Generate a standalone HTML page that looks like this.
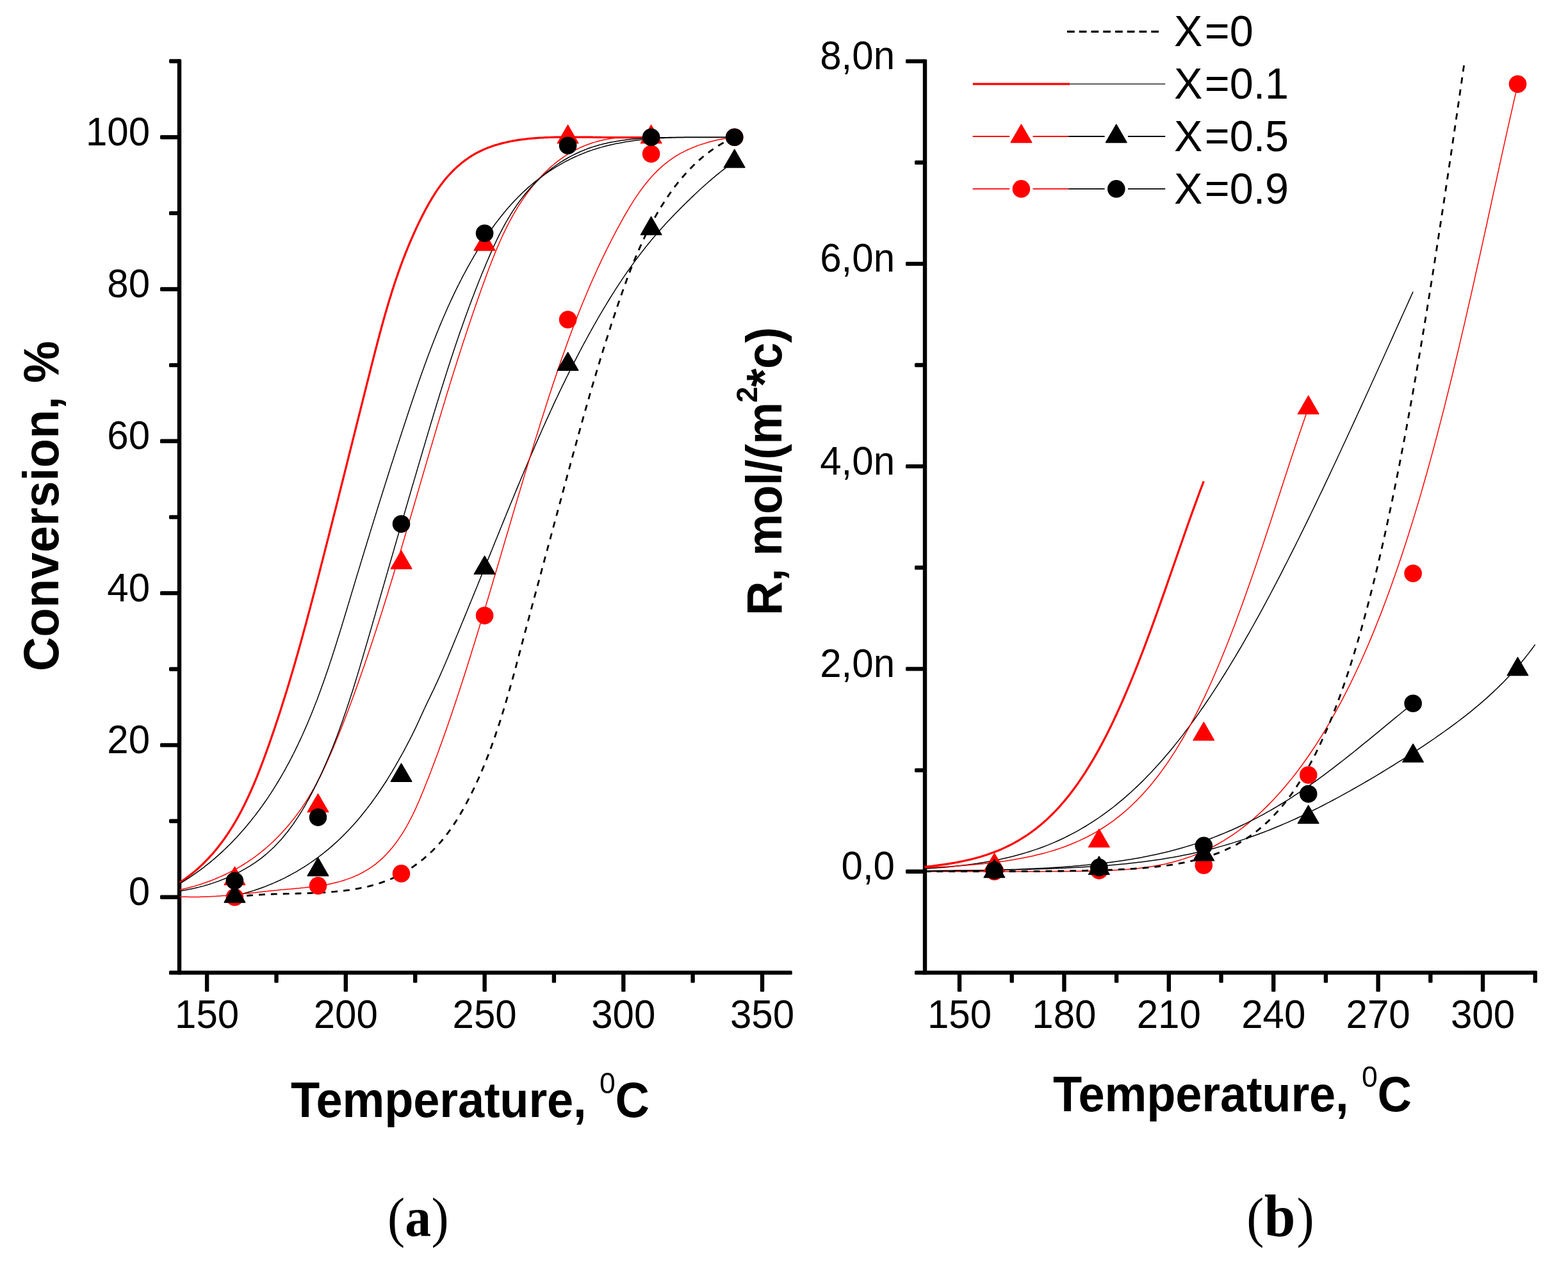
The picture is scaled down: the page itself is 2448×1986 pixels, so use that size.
<!DOCTYPE html>
<html lang="en"><head><meta charset="utf-8"><title>Conversion and reaction rate vs temperature</title>
<style>html,body{margin:0;padding:0;background:#fff}svg{display:block}text{font-family:"Liberation Sans",sans-serif;fill:#000}.tk{font-size:60px}.ttl{font-size:74.0px;font-weight:bold}.lg{font-size:66.5px}.cap{font-family:"Liberation Serif",serif}.axl{stroke:#000;stroke-width:6.4;fill:none;stroke-linecap:round}</style></head><body>
<svg xmlns="http://www.w3.org/2000/svg" width="2448" height="1986" viewBox="0 0 2448 1986">
<rect width="2448" height="1986" fill="#fff"/>
<g id="axes-a">
<rect x="276.8" y="92.3" width="6.4" height="1429.5" rx="1.6" fill="#000"/>
<rect x="264.0" y="1515.4" width="972.7" height="6.4" rx="1.6" fill="#000"/>
<rect x="319.9" y="1518.6" width="6.4" height="30.0" rx="1.6" fill="#000"/>
<rect x="536.6" y="1518.6" width="6.4" height="30.0" rx="1.6" fill="#000"/>
<rect x="753.4" y="1518.6" width="6.4" height="30.0" rx="1.6" fill="#000"/>
<rect x="970.1" y="1518.6" width="6.4" height="30.0" rx="1.6" fill="#000"/>
<rect x="1186.8" y="1518.6" width="6.4" height="30.0" rx="1.6" fill="#000"/>
<rect x="428.3" y="1518.6" width="6.4" height="16.0" rx="1.6" fill="#000"/>
<rect x="645.0" y="1518.6" width="6.4" height="16.0" rx="1.6" fill="#000"/>
<rect x="861.7" y="1518.6" width="6.4" height="16.0" rx="1.6" fill="#000"/>
<rect x="1078.4" y="1518.6" width="6.4" height="16.0" rx="1.6" fill="#000"/>
<rect x="250.0" y="1397.5" width="30.0" height="6.4" rx="1.6" fill="#000"/>
<rect x="250.0" y="1160.2" width="30.0" height="6.4" rx="1.6" fill="#000"/>
<rect x="250.0" y="922.9" width="30.0" height="6.4" rx="1.6" fill="#000"/>
<rect x="250.0" y="685.6" width="30.0" height="6.4" rx="1.6" fill="#000"/>
<rect x="250.0" y="448.3" width="30.0" height="6.4" rx="1.6" fill="#000"/>
<rect x="250.0" y="211.0" width="30.0" height="6.4" rx="1.6" fill="#000"/>
<rect x="264.0" y="1278.8" width="16.0" height="6.4" rx="1.6" fill="#000"/>
<rect x="264.0" y="1041.5" width="16.0" height="6.4" rx="1.6" fill="#000"/>
<rect x="264.0" y="804.2" width="16.0" height="6.4" rx="1.6" fill="#000"/>
<rect x="264.0" y="566.9" width="16.0" height="6.4" rx="1.6" fill="#000"/>
<rect x="264.0" y="329.7" width="16.0" height="6.4" rx="1.6" fill="#000"/>
<rect x="264.0" y="92.3" width="16.0" height="6.4" rx="1.6" fill="#000"/>
<text class="tk" transform="translate(323.1 1604.6) scale(1 1.04)" text-anchor="middle">150</text>
<text class="tk" transform="translate(539.8 1604.6) scale(1 1.04)" text-anchor="middle">200</text>
<text class="tk" transform="translate(756.6 1604.6) scale(1 1.04)" text-anchor="middle">250</text>
<text class="tk" transform="translate(973.3 1604.6) scale(1 1.04)" text-anchor="middle">300</text>
<text class="tk" transform="translate(1190.0 1604.6) scale(1 1.04)" text-anchor="middle">350</text>
<text class="tk" transform="translate(234.0 1413.2) scale(1 1.04)" text-anchor="end">0</text>
<text class="tk" transform="translate(234.0 1175.9) scale(1 1.04)" text-anchor="end">20</text>
<text class="tk" transform="translate(234.0 938.6) scale(1 1.04)" text-anchor="end">40</text>
<text class="tk" transform="translate(234.0 701.3) scale(1 1.04)" text-anchor="end">60</text>
<text class="tk" transform="translate(234.0 464.0) scale(1 1.04)" text-anchor="end">80</text>
<text class="tk" transform="translate(234.0 226.7) scale(1 1.04)" text-anchor="end">100</text>
</g>
<g id="axes-b">
<rect x="1440.8" y="92.4" width="6.4" height="1429.4" rx="1.6" fill="#000"/>
<rect x="1428.0" y="1515.4" width="972.0" height="6.4" rx="1.6" fill="#000"/>
<rect x="1494.8" y="1518.6" width="6.4" height="30.0" rx="1.6" fill="#000"/>
<rect x="1658.2" y="1518.6" width="6.4" height="30.0" rx="1.6" fill="#000"/>
<rect x="1821.6" y="1518.6" width="6.4" height="30.0" rx="1.6" fill="#000"/>
<rect x="1985.0" y="1518.6" width="6.4" height="30.0" rx="1.6" fill="#000"/>
<rect x="2148.4" y="1518.6" width="6.4" height="30.0" rx="1.6" fill="#000"/>
<rect x="2311.8" y="1518.6" width="6.4" height="30.0" rx="1.6" fill="#000"/>
<rect x="1576.5" y="1518.6" width="6.4" height="16.0" rx="1.6" fill="#000"/>
<rect x="1739.9" y="1518.6" width="6.4" height="16.0" rx="1.6" fill="#000"/>
<rect x="1903.3" y="1518.6" width="6.4" height="16.0" rx="1.6" fill="#000"/>
<rect x="2066.7" y="1518.6" width="6.4" height="16.0" rx="1.6" fill="#000"/>
<rect x="2230.1" y="1518.6" width="6.4" height="16.0" rx="1.6" fill="#000"/>
<rect x="2393.5" y="1518.6" width="6.4" height="16.0" rx="1.6" fill="#000"/>
<rect x="1414.0" y="1357.5" width="30.0" height="6.4" rx="1.6" fill="#000"/>
<rect x="1414.0" y="1041.2" width="30.0" height="6.4" rx="1.6" fill="#000"/>
<rect x="1414.0" y="724.9" width="30.0" height="6.4" rx="1.6" fill="#000"/>
<rect x="1414.0" y="408.7" width="30.0" height="6.4" rx="1.6" fill="#000"/>
<rect x="1414.0" y="92.4" width="30.0" height="6.4" rx="1.6" fill="#000"/>
<rect x="1428.0" y="1199.4" width="16.0" height="6.4" rx="1.6" fill="#000"/>
<rect x="1428.0" y="883.1" width="16.0" height="6.4" rx="1.6" fill="#000"/>
<rect x="1428.0" y="566.8" width="16.0" height="6.4" rx="1.6" fill="#000"/>
<rect x="1428.0" y="250.5" width="16.0" height="6.4" rx="1.6" fill="#000"/>
<text class="tk" transform="translate(1498.0 1604.6) scale(1 1.04)" text-anchor="middle">150</text>
<text class="tk" transform="translate(1661.4 1604.6) scale(1 1.04)" text-anchor="middle">180</text>
<text class="tk" transform="translate(1824.8 1604.6) scale(1 1.04)" text-anchor="middle">210</text>
<text class="tk" transform="translate(1988.2 1604.6) scale(1 1.04)" text-anchor="middle">240</text>
<text class="tk" transform="translate(2151.6 1604.6) scale(1 1.04)" text-anchor="middle">270</text>
<text class="tk" transform="translate(2315.0 1604.6) scale(1 1.04)" text-anchor="middle">300</text>
<text class="tk" transform="translate(1397.0 1373.2) scale(1 1.04)" text-anchor="end">0,0</text>
<text class="tk" transform="translate(1397.0 1056.9) scale(1 1.04)" text-anchor="end">2,0n</text>
<text class="tk" transform="translate(1397.0 740.6) scale(1 1.04)" text-anchor="end">4,0n</text>
<text class="tk" transform="translate(1397.0 424.4) scale(1 1.04)" text-anchor="end">6,0n</text>
<text class="tk" transform="translate(1397.0 108.1) scale(1 1.04)" text-anchor="end">8,0n</text>
</g>
<g id="plot-a">
<path d="M280.5 1377.9L283.1 1376.2L285.6 1374.5L288.2 1372.7L290.7 1370.9L293.1 1369.1L295.5 1367.2L297.9 1365.4L300.3 1363.5L302.7 1361.6L305.0 1359.6L307.2 1357.7L309.5 1355.7L311.7 1353.7L313.9 1351.6L316.1 1349.6L318.2 1347.5L320.3 1345.4L322.4 1343.2L324.5 1341.1L326.5 1338.9L328.5 1336.7L330.5 1334.5L332.5 1332.3L334.4 1330.0L336.3 1327.7L338.2 1325.4L340.1 1323.1L341.9 1320.8L343.7 1318.4L345.5 1316.1L347.3 1313.7L349.0 1311.3L350.8 1308.9L352.5 1306.4L354.2 1304.0L355.8 1301.5L357.5 1299.0L359.1 1296.5L360.7 1294.0L362.3 1291.5L363.8 1288.9L365.4 1286.4L366.9 1283.8L368.4 1281.2L369.9 1278.6L371.4 1276.0L372.8 1273.4L374.2 1270.7L375.7 1268.1L377.1 1265.4L378.4 1262.7L379.8 1260.0L381.2 1257.3L382.5 1254.6L383.8 1251.9L385.1 1249.2L386.4 1246.5L387.7 1243.7L389.0 1241.0L390.2 1238.2L391.5 1235.5L392.7 1232.7L393.9 1229.9L395.1 1227.1L396.3 1224.3L397.5 1221.5L398.7 1218.7L399.8 1215.9L401.0 1213.1L402.1 1210.3L403.2 1207.4L404.3 1204.6L405.5 1201.8L406.6 1198.9L407.6 1196.1L408.7 1193.2L409.8 1190.4L410.9 1187.5L411.9 1184.7L413.0 1181.8L414.0 1179.0L415.1 1176.1L416.1 1173.3L417.1 1170.4L418.1 1167.6L419.2 1164.7L420.2 1161.9L421.2 1159.0L422.2 1156.1L423.2 1153.3L424.1 1150.4L425.1 1147.6L426.1 1144.7L427.1 1141.9L428.1 1139.0L429.0 1136.2L430.0 1133.3L430.9 1130.5L431.9 1127.6L432.8 1124.8L433.8 1121.9L434.7 1119.1L435.6 1116.2L436.6 1113.3L437.5 1110.5L438.4 1107.6L439.3 1104.8L440.2 1101.9L441.1 1099.1L442.0 1096.2L442.9 1093.4L443.8 1090.5L444.7 1087.7L445.6 1084.8L446.5 1082.0L447.4 1079.1L448.3 1076.2L449.1 1073.4L450.0 1070.5L450.9 1067.7L451.7 1064.8L452.6 1062.0L453.4 1059.1L454.3 1056.2L455.1 1053.4L456.0 1050.5L456.8 1047.7L457.7 1044.8L458.5 1042.0L459.3 1039.1L460.2 1036.2L461.0 1033.4L461.8 1030.5L462.6 1027.6L463.4 1024.8L464.3 1021.9L465.1 1019.1L465.9 1016.2L466.7 1013.3L467.5 1010.5L468.3 1007.6L469.1 1004.7L469.9 1001.9L470.7 999.0L471.5 996.1L472.3 993.2L473.1 990.4L473.8 987.5L474.6 984.6L475.4 981.8L476.2 978.9L477.0 976.0L477.8 973.1L478.5 970.3L479.3 967.4L480.1 964.5L480.8 961.6L481.6 958.7L482.4 955.9L483.2 953.0L483.9 950.1L484.7 947.2L485.4 944.3L486.2 941.4L487.0 938.5L487.7 935.7L488.5 932.8L489.2 929.9L490.0 927.0L490.8 924.1L491.5 921.2L492.3 918.3L493.0 915.4L493.8 912.5L494.5 909.6L495.3 906.7L496.0 903.8L496.8 900.9L497.5 898.0L498.3 895.1L499.0 892.2L499.8 889.3L500.5 886.3L501.3 883.4L502.0 880.5L502.8 877.6L503.5 874.7L504.3 871.8L505.0 868.9L505.8 865.9L506.5 863.0L507.2 860.1L508.0 857.2L508.7 854.2L509.5 851.3L510.2 848.4L511.0 845.5L511.7 842.5L512.5 839.6L513.2 836.7L514.0 833.8L514.7 830.8L515.4 827.9L516.2 825.0L516.9 822.0L517.7 819.1L518.4 816.2L519.2 813.2L519.9 810.3L520.6 807.3L521.4 804.4L522.1 801.5L522.9 798.5L523.6 795.6L524.4 792.7L525.1 789.7L525.8 786.8L526.6 783.8L527.3 780.9L528.1 778.0L528.8 775.0L529.5 772.1L530.3 769.1L531.0 766.2L531.8 763.2L532.5 760.3L533.2 757.3L534.0 754.4L534.7 751.5L535.5 748.5L536.2 745.6L536.9 742.6L537.7 739.7L538.4 736.7L539.1 733.8L539.9 730.8L540.6 727.9L541.4 725.0L542.1 722.0L542.8 719.1L543.6 716.1L544.3 713.2L545.0 710.2L545.8 707.3L546.5 704.3L547.3 701.4L548.0 698.5L548.7 695.5L549.5 692.6L550.2 689.6L550.9 686.7L551.7 683.7L552.4 680.8L553.1 677.9L553.9 674.9L554.6 672.0L555.4 669.0L556.1 666.1L556.8 663.2L557.6 660.2L558.3 657.3L559.0 654.4L559.8 651.4L560.5 648.5L561.2 645.6L562.0 642.6L562.7 639.7L563.4 636.8L564.2 633.8L564.9 630.9L565.7 628.0L566.4 625.0L567.1 622.1L567.9 619.2L568.6 616.3L569.3 613.3L570.1 610.4L570.8 607.5L571.5 604.6L572.3 601.6L573.0 598.7L573.7 595.8L574.5 592.9L575.2 590.0L575.9 587.1L576.7 584.2L577.4 581.2L578.1 578.3L578.9 575.4L579.6 572.5L580.4 569.6L581.1 566.7L581.8 563.8L582.6 560.9L583.3 558.0L584.0 555.1L584.8 552.2L585.5 549.3L586.3 546.4L587.0 543.5L587.8 540.6L588.5 537.7L589.3 534.8L590.0 532.0L590.8 529.1L591.6 526.2L592.3 523.3L593.1 520.4L593.9 517.5L594.7 514.7L595.4 511.8L596.2 508.9L597.0 506.1L597.8 503.2L598.6 500.3L599.4 497.5L600.2 494.6L601.0 491.7L601.8 488.9L602.7 486.0L603.5 483.2L604.3 480.3L605.2 477.5L606.0 474.6L606.9 471.8L607.7 468.9L608.6 466.1L609.5 463.2L610.4 460.4L611.2 457.6L612.1 454.7L613.0 451.9L614.0 449.1L614.9 446.3L615.8 443.4L616.7 440.6L617.7 437.8L618.6 435.0L619.6 432.2L620.6 429.4L621.5 426.6L622.5 423.8L623.5 421.0L624.5 418.2L625.5 415.4L626.6 412.6L627.6 409.8L628.6 407.0L629.7 404.2L630.8 401.4L631.9 398.6L632.9 395.9L634.0 393.1L635.2 390.3L636.3 387.5L637.4 384.8L638.6 382.0L639.7 379.3L640.9 376.5L642.1 373.8L643.3 371.0L644.5 368.3L645.7 365.5L646.9 362.8L648.2 360.0L649.4 357.3L650.7 354.6L652.0 351.8L653.3 349.1L654.6 346.4L655.9 343.7L657.3 341.0L658.7 338.3L660.0 335.6L661.4 332.9L662.8 330.2L664.2 327.5L665.7 324.8L667.2 322.1L668.6 319.5L670.1 316.8L671.7 314.2L673.2 311.6L674.8 308.9L676.4 306.4L678.0 303.8L679.6 301.2L681.3 298.7L683.0 296.2L684.7 293.7L686.5 291.2L688.2 288.8L690.1 286.4L691.9 284.0L693.8 281.6L695.7 279.3L697.6 277.0L699.6 274.7L701.6 272.5L703.7 270.3L705.8 268.1L707.9 266.0L710.0 263.9L712.2 261.9L714.4 259.8L716.7 257.9L719.0 255.9L721.3 254.1L723.6 252.2L726.0 250.4L728.4 248.7L730.9 247.0L733.3 245.3L735.8 243.7L738.4 242.2L740.9 240.7L743.5 239.2L746.1 237.8L748.8 236.5L751.4 235.2L754.1 234.0L756.8 232.8L759.6 231.6L762.3 230.5L765.1 229.5L767.9 228.5L770.8 227.5L773.6 226.6L776.5 225.8L779.3 224.9L782.2 224.1L785.1 223.4L788.1 222.7L791.0 222.0L794.0 221.4L796.9 220.8L799.9 220.2L802.9 219.7L805.9 219.2L808.9 218.7L811.9 218.2L814.9 217.8L817.9 217.4L820.9 217.1L824.0 216.7L827.0 216.4L830.0 216.1L833.1 215.9L836.1 215.6L839.2 215.4L842.2 215.2L845.2 215.0L848.3 214.9L851.3 214.7L854.3 214.6L857.4 214.5L860.4 214.4L863.4 214.3L866.4 214.2L869.5 214.2L872.5 214.2L875.5 214.2L878.5 214.2L881.5 214.2L884.6 214.2L887.6 214.2L890.6 214.2L893.6 214.2L896.6 214.2L899.6 214.2L902.6 214.2L905.6 214.2L908.7 214.2L911.7 214.2L914.7 214.2L917.7 214.2L920.7 214.2L923.7 214.2L926.7 214.3L929.7 214.3L932.7 214.4L935.7 214.4L938.7 214.4L941.7 214.5L944.7 214.5L947.7 214.5L950.7 214.6L953.7 214.6L956.7 214.6L959.7 214.6L962.7 214.7L965.7 214.7L968.7 214.7L971.7 214.7L974.6 214.7L977.6 214.7L980.6 214.7L983.6 214.7L986.6 214.7L989.6 214.7L992.6 214.6L995.6 214.6L998.6 214.6L1001.6 214.5L1004.6 214.5L1007.6 214.4L1010.6 214.4L1013.6 214.3L1016.6 214.2" fill="none" stroke="#ff0000" stroke-width="3.2" stroke-linejoin="round"/>
<path d="M280.5 1379.6L283.1 1378.0L285.7 1376.5L288.3 1374.9L290.8 1373.3L293.4 1371.6L295.9 1370.0L298.4 1368.3L300.9 1366.6L303.4 1364.9L305.9 1363.2L308.3 1361.4L310.8 1359.7L313.2 1357.9L315.6 1356.1L318.0 1354.3L320.4 1352.4L322.7 1350.6L325.1 1348.7L327.4 1346.8L329.7 1344.9L332.0 1343.0L334.3 1341.1L336.6 1339.1L338.8 1337.1L341.1 1335.1L343.3 1333.1L345.5 1331.1L347.7 1329.1L349.9 1327.0L352.0 1325.0L354.2 1322.9L356.3 1320.8L358.5 1318.7L360.6 1316.5L362.7 1314.4L364.7 1312.2L366.8 1310.1L368.9 1307.9L370.9 1305.7L372.9 1303.5L374.9 1301.2L376.9 1299.0L378.9 1296.7L380.9 1294.5L382.8 1292.2L384.8 1289.9L386.7 1287.6L388.6 1285.3L390.5 1283.0L392.4 1280.6L394.2 1278.3L396.1 1275.9L397.9 1273.6L399.8 1271.2L401.6 1268.8L403.4 1266.4L405.2 1264.0L406.9 1261.5L408.7 1259.1L410.4 1256.7L412.2 1254.2L413.9 1251.8L415.6 1249.3L417.3 1246.8L419.0 1244.3L420.6 1241.8L422.3 1239.3L423.9 1236.8L425.5 1234.3L427.2 1231.7L428.8 1229.2L430.3 1226.6L431.9 1224.1L433.5 1221.5L435.0 1219.0L436.6 1216.4L438.1 1213.8L439.6 1211.2L441.1 1208.6L442.6 1206.0L444.0 1203.4L445.5 1200.8L446.9 1198.2L448.4 1195.5L449.8 1192.9L451.2 1190.3L452.6 1187.6L454.0 1185.0L455.4 1182.3L456.7 1179.6L458.1 1177.0L459.4 1174.3L460.8 1171.6L462.1 1168.9L463.4 1166.2L464.7 1163.6L466.0 1160.8L467.2 1158.1L468.5 1155.4L469.8 1152.7L471.0 1150.0L472.3 1147.3L473.5 1144.5L474.7 1141.8L475.9 1139.1L477.1 1136.3L478.3 1133.6L479.5 1130.8L480.7 1128.1L481.8 1125.3L483.0 1122.5L484.1 1119.8L485.3 1117.0L486.4 1114.2L487.5 1111.4L488.6 1108.7L489.7 1105.9L490.8 1103.1L491.9 1100.3L493.0 1097.5L494.1 1094.7L495.2 1091.9L496.2 1089.1L497.3 1086.2L498.3 1083.4L499.4 1080.6L500.4 1077.8L501.4 1075.0L502.5 1072.1L503.5 1069.3L504.5 1066.5L505.5 1063.6L506.5 1060.8L507.5 1057.9L508.5 1055.1L509.4 1052.3L510.4 1049.4L511.4 1046.6L512.4 1043.7L513.3 1040.9L514.3 1038.0L515.2 1035.1L516.2 1032.3L517.1 1029.4L518.1 1026.5L519.0 1023.7L519.9 1020.8L520.8 1017.9L521.8 1015.1L522.7 1012.2L523.6 1009.3L524.5 1006.5L525.4 1003.6L526.3 1000.7L527.2 997.8L528.1 994.9L529.0 992.1L529.9 989.2L530.8 986.3L531.7 983.4L532.6 980.5L533.5 977.7L534.3 974.8L535.2 971.9L536.1 969.0L537.0 966.1L537.8 963.2L538.7 960.4L539.6 957.5L540.5 954.6L541.3 951.7L542.2 948.8L543.1 945.9L543.9 943.1L544.8 940.2L545.7 937.3L546.5 934.4L547.4 931.5L548.3 928.6L549.1 925.8L550.0 922.9L550.9 920.0L551.7 917.1L552.6 914.3L553.5 911.4L554.3 908.5L555.2 905.6L556.1 902.8L556.9 899.9L557.8 897.0L558.7 894.1L559.6 891.3L560.4 888.4L561.3 885.5L562.2 882.7L563.0 879.8L563.9 876.9L564.8 874.1L565.7 871.2L566.5 868.3L567.4 865.5L568.3 862.6L569.1 859.7L570.0 856.9L570.9 854.0L571.8 851.2L572.7 848.3L573.5 845.4L574.4 842.6L575.3 839.7L576.2 836.9L577.0 834.0L577.9 831.1L578.8 828.3L579.7 825.4L580.6 822.6L581.5 819.7L582.3 816.9L583.2 814.0L584.1 811.1L585.0 808.3L585.9 805.4L586.8 802.6L587.7 799.7L588.5 796.9L589.4 794.0L590.3 791.2L591.2 788.3L592.1 785.5L593.0 782.6L593.9 779.8L594.8 776.9L595.7 774.1L596.6 771.2L597.5 768.3L598.4 765.5L599.3 762.6L600.2 759.8L601.1 756.9L602.0 754.1L602.9 751.2L603.8 748.4L604.7 745.5L605.6 742.7L606.5 739.8L607.4 737.0L608.3 734.1L609.2 731.3L610.1 728.4L611.0 725.6L611.9 722.7L612.9 719.9L613.8 717.0L614.7 714.2L615.6 711.3L616.5 708.5L617.4 705.6L618.4 702.8L619.3 699.9L620.2 697.1L621.1 694.2L622.1 691.4L623.0 688.5L623.9 685.6L624.8 682.8L625.8 679.9L626.7 677.1L627.6 674.2L628.6 671.4L629.5 668.5L630.4 665.7L631.4 662.8L632.3 660.0L633.3 657.1L634.2 654.2L635.1 651.4L636.1 648.5L637.0 645.7L638.0 642.8L638.9 640.0L639.9 637.1L640.8 634.2L641.8 631.4L642.7 628.5L643.7 625.7L644.7 622.8L645.6 620.0L646.6 617.1L647.6 614.3L648.5 611.4L649.5 608.5L650.5 605.7L651.5 602.8L652.5 600.0L653.4 597.1L654.4 594.3L655.4 591.4L656.4 588.6L657.4 585.7L658.4 582.9L659.4 580.1L660.5 577.2L661.5 574.4L662.5 571.5L663.5 568.7L664.6 565.9L665.6 563.0L666.6 560.2L667.7 557.4L668.7 554.5L669.8 551.7L670.9 548.9L671.9 546.1L673.0 543.3L674.1 540.4L675.2 537.6L676.3 534.8L677.3 532.0L678.5 529.2L679.6 526.4L680.7 523.6L681.8 520.8L682.9 518.0L684.1 515.2L685.2 512.4L686.3 509.6L687.5 506.9L688.7 504.1L689.8 501.3L691.0 498.5L692.2 495.8L693.4 493.0L694.6 490.2L695.8 487.5L697.0 484.7L698.2 482.0L699.4 479.2L700.7 476.5L701.9 473.8L703.2 471.0L704.4 468.3L705.7 465.6L707.0 462.9L708.3 460.2L709.6 457.4L710.9 454.7L712.2 452.0L713.5 449.4L714.8 446.7L716.2 444.0L717.5 441.3L718.9 438.6L720.3 436.0L721.6 433.3L723.0 430.6L724.4 428.0L725.9 425.3L727.3 422.7L728.7 420.1L730.1 417.4L731.6 414.8L733.1 412.2L734.5 409.6L736.0 407.0L737.5 404.4L739.0 401.8L740.5 399.2L742.1 396.6L743.6 394.0L745.2 391.5L746.7 388.9L748.3 386.3L749.9 383.8L751.5 381.3L753.1 378.7L754.7 376.2L756.4 373.7L758.0 371.2L759.7 368.7L761.4 366.2L763.1 363.7L764.8 361.3L766.5 358.8L768.3 356.4L770.0 354.0L771.8 351.5L773.5 349.1L775.3 346.8L777.2 344.4L779.0 342.0L780.8 339.7L782.7 337.3L784.6 335.0L786.4 332.7L788.3 330.4L790.3 328.1L792.2 325.8L794.2 323.6L796.1 321.4L798.1 319.1L800.1 316.9L802.2 314.8L804.2 312.6L806.3 310.4L808.3 308.3L810.4 306.2L812.6 304.1L814.7 302.0L816.8 300.0L819.0 297.9L821.2 295.9L823.4 293.9L825.7 291.9L827.9 290.0L830.2 288.0L832.5 286.1L834.8 284.2L837.1 282.3L839.4 280.5L841.8 278.7L844.2 276.9L846.6 275.1L849.0 273.3L851.5 271.6L853.9 269.9L856.4 268.2L858.9 266.5L861.4 264.9L863.9 263.3L866.4 261.7L869.0 260.1L871.6 258.6L874.2 257.1L876.8 255.6L879.4 254.2L882.0 252.7L884.6 251.3L887.3 250.0L890.0 248.6L892.7 247.3L895.4 246.0L898.1 244.8L900.8 243.6L903.5 242.4L906.3 241.2L909.0 240.1L911.8 239.0L914.6 237.9L917.4 236.8L920.2 235.8L923.0 234.9L925.8 233.9L928.7 233.0L931.5 232.1L934.4 231.2L937.2 230.4L940.1 229.6L943.0 228.8L945.9 228.0L948.8 227.3L951.7 226.6L954.6 225.9L957.6 225.3L960.5 224.6L963.4 224.0L966.4 223.5L969.3 222.9L972.3 222.4L975.3 221.8L978.2 221.3L981.2 220.9L984.2 220.4L987.2 220.0L990.2 219.6L993.2 219.2L996.2 218.8L999.2 218.4L1002.2 218.1L1005.2 217.8L1008.2 217.5L1011.3 217.2L1014.3 216.9L1017.3 216.7L1020.3 216.4L1023.4 216.2L1026.4 216.0L1029.4 215.8L1032.5 215.6L1035.5 215.4L1038.6 215.3L1041.6 215.1L1044.6 215.0L1047.7 214.9L1050.7 214.8L1053.8 214.7L1056.8 214.6L1059.8 214.5L1062.9 214.4L1065.9 214.4L1068.9 214.3L1072.0 214.3L1075.0 214.2L1078.0 214.2L1081.0 214.2L1084.1 214.2L1087.1 214.2L1090.1 214.2L1093.1 214.2L1096.1 214.2L1099.1 214.2L1102.1 214.2L1105.1 214.2L1108.1 214.2L1111.1 214.2L1114.1 214.2L1117.1 214.2L1120.1 214.2L1123.0 214.2L1126.0 214.2L1129.0 214.2L1131.9 214.2L1134.9 214.2L1137.8 214.2L1140.8 214.2L1143.7 214.2L1146.7 214.2" fill="none" stroke="#000000" stroke-width="1.5" stroke-linejoin="round"/>
<path d="M280.5 1389.4L283.5 1388.7L286.5 1388.0L289.5 1387.3L292.4 1386.6L295.4 1385.8L298.3 1385.0L301.3 1384.2L304.2 1383.4L307.1 1382.5L310.0 1381.6L312.9 1380.7L315.7 1379.8L318.6 1378.8L321.4 1377.8L324.3 1376.8L327.1 1375.7L329.9 1374.7L332.7 1373.6L335.5 1372.5L338.3 1371.3L341.0 1370.1L343.8 1368.9L346.5 1367.7L349.2 1366.5L351.9 1365.2L354.6 1363.9L357.3 1362.6L359.9 1361.2L362.6 1359.8L365.2 1358.4L367.8 1357.0L370.4 1355.6L373.0 1354.1L375.6 1352.6L378.1 1351.0L380.7 1349.5L383.2 1347.9L385.7 1346.3L388.2 1344.6L390.7 1342.9L393.1 1341.3L395.6 1339.5L398.0 1337.8L400.4 1336.0L402.8 1334.2L405.1 1332.4L407.5 1330.5L409.8 1328.6L412.2 1326.7L414.5 1324.8L416.7 1322.8L419.0 1320.8L421.2 1318.8L423.5 1316.7L425.7 1314.7L427.9 1312.6L430.0 1310.5L432.2 1308.3L434.3 1306.2L436.4 1304.0L438.5 1301.8L440.6 1299.6L442.6 1297.3L444.7 1295.1L446.7 1292.8L448.7 1290.5L450.6 1288.2L452.6 1285.9L454.5 1283.5L456.4 1281.1L458.3 1278.8L460.2 1276.4L462.0 1273.9L463.8 1271.5L465.6 1269.1L467.4 1266.6L469.2 1264.2L470.9 1261.7L472.6 1259.2L474.3 1256.7L475.9 1254.2L477.6 1251.6L479.2 1249.1L480.8 1246.6L482.4 1244.0L483.9 1241.5L485.4 1238.9L486.9 1236.3L488.4 1233.7L489.9 1231.2L491.3 1228.6L492.7 1225.9L494.1 1223.3L495.5 1220.7L496.9 1218.1L498.2 1215.4L499.6 1212.8L500.9 1210.1L502.2 1207.5L503.5 1204.8L504.8 1202.2L506.0 1199.5L507.3 1196.8L508.5 1194.1L509.8 1191.4L511.0 1188.7L512.2 1186.0L513.4 1183.3L514.6 1180.5L515.8 1177.8L517.0 1175.1L518.2 1172.3L519.3 1169.6L520.5 1166.9L521.7 1164.1L522.8 1161.3L524.0 1158.6L525.1 1155.8L526.3 1153.0L527.4 1150.3L528.5 1147.5L529.6 1144.7L530.8 1141.9L531.9 1139.1L533.0 1136.3L534.1 1133.5L535.2 1130.7L536.3 1127.9L537.4 1125.1L538.5 1122.3L539.6 1119.5L540.6 1116.7L541.7 1113.8L542.8 1111.0L543.9 1108.2L544.9 1105.4L546.0 1102.5L547.0 1099.7L548.1 1096.9L549.1 1094.0L550.2 1091.2L551.2 1088.3L552.3 1085.5L553.3 1082.7L554.3 1079.8L555.3 1077.0L556.4 1074.1L557.4 1071.3L558.4 1068.4L559.4 1065.6L560.4 1062.7L561.4 1059.9L562.4 1057.0L563.4 1054.2L564.4 1051.3L565.4 1048.5L566.4 1045.6L567.4 1042.7L568.4 1039.9L569.4 1037.0L570.3 1034.2L571.3 1031.3L572.3 1028.5L573.3 1025.6L574.2 1022.8L575.2 1019.9L576.1 1017.0L577.1 1014.2L578.1 1011.3L579.0 1008.5L580.0 1005.6L580.9 1002.7L581.9 999.9L582.8 997.0L583.7 994.1L584.7 991.3L585.6 988.4L586.6 985.6L587.5 982.7L588.4 979.8L589.3 977.0L590.3 974.1L591.2 971.2L592.1 968.4L593.0 965.5L593.9 962.6L594.9 959.8L595.8 956.9L596.7 954.0L597.6 951.1L598.5 948.3L599.4 945.4L600.3 942.5L601.2 939.7L602.1 936.8L603.0 933.9L603.9 931.1L604.8 928.2L605.7 925.3L606.5 922.4L607.4 919.6L608.3 916.7L609.2 913.8L610.1 910.9L611.0 908.1L611.8 905.2L612.7 902.3L613.6 899.4L614.5 896.6L615.3 893.7L616.2 890.8L617.1 887.9L617.9 885.1L618.8 882.2L619.7 879.3L620.5 876.4L621.4 873.6L622.3 870.7L623.1 867.8L624.0 864.9L624.9 862.1L625.7 859.2L626.6 856.3L627.4 853.4L628.3 850.5L629.1 847.7L630.0 844.8L630.8 841.9L631.7 839.0L632.5 836.2L633.4 833.3L634.2 830.4L635.1 827.5L635.9 824.6L636.8 821.8L637.6 818.9L638.5 816.0L639.3 813.1L640.2 810.2L641.0 807.4L641.8 804.5L642.7 801.6L643.5 798.7L644.4 795.8L645.2 793.0L646.1 790.1L646.9 787.2L647.7 784.3L648.6 781.4L649.4 778.6L650.3 775.7L651.1 772.8L651.9 769.9L652.8 767.0L653.6 764.2L654.5 761.3L655.3 758.4L656.1 755.5L657.0 752.6L657.8 749.8L658.7 746.9L659.5 744.0L660.3 741.1L661.2 738.2L662.0 735.4L662.9 732.5L663.7 729.6L664.5 726.7L665.4 723.9L666.2 721.0L667.1 718.1L667.9 715.2L668.8 712.3L669.6 709.5L670.4 706.6L671.3 703.7L672.1 700.8L673.0 697.9L673.8 695.1L674.7 692.2L675.5 689.3L676.4 686.4L677.2 683.6L678.1 680.7L678.9 677.8L679.8 674.9L680.6 672.1L681.5 669.2L682.3 666.3L683.2 663.4L684.0 660.6L684.9 657.7L685.8 654.8L686.6 651.9L687.5 649.1L688.4 646.2L689.2 643.3L690.1 640.4L690.9 637.6L691.8 634.7L692.7 631.8L693.6 629.0L694.4 626.1L695.3 623.2L696.2 620.3L697.1 617.5L697.9 614.6L698.8 611.7L699.7 608.9L700.6 606.0L701.5 603.1L702.3 600.3L703.2 597.4L704.1 594.5L705.0 591.7L705.9 588.8L706.8 585.9L707.7 583.1L708.6 580.2L709.5 577.3L710.4 574.5L711.3 571.6L712.2 568.7L713.1 565.9L714.0 563.0L714.9 560.2L715.8 557.3L716.8 554.4L717.7 551.6L718.6 548.7L719.5 545.9L720.5 543.0L721.4 540.1L722.3 537.3L723.2 534.4L724.2 531.6L725.1 528.7L726.1 525.9L727.0 523.0L727.9 520.2L728.9 517.3L729.8 514.4L730.8 511.6L731.7 508.7L732.7 505.9L733.7 503.0L734.6 500.2L735.6 497.3L736.6 494.5L737.5 491.6L738.5 488.8L739.5 485.9L740.5 483.1L741.4 480.3L742.4 477.4L743.4 474.6L744.4 471.7L745.4 468.9L746.4 466.0L747.4 463.2L748.4 460.3L749.4 457.5L750.4 454.7L751.4 451.8L752.5 449.0L753.5 446.2L754.5 443.3L755.5 440.5L756.6 437.6L757.6 434.8L758.6 432.0L759.7 429.1L760.7 426.3L761.8 423.5L762.8 420.7L763.9 417.8L765.0 415.0L766.1 412.2L767.1 409.4L768.2 406.6L769.4 403.8L770.5 401.0L771.6 398.2L772.7 395.4L773.9 392.6L775.0 389.8L776.2 387.1L777.4 384.3L778.6 381.5L779.8 378.8L781.0 376.0L782.2 373.3L783.5 370.5L784.7 367.8L786.0 365.1L787.3 362.4L788.6 359.7L789.9 357.0L791.2 354.3L792.6 351.6L793.9 349.0L795.3 346.3L796.7 343.7L798.2 341.1L799.6 338.4L801.1 335.8L802.6 333.2L804.1 330.6L805.6 328.1L807.1 325.5L808.7 322.9L810.3 320.4L811.9 317.9L813.5 315.4L815.2 312.9L816.9 310.4L818.6 307.9L820.3 305.5L822.0 303.0L823.8 300.6L825.6 298.2L827.5 295.8L829.3 293.4L831.2 291.1L833.1 288.7L835.1 286.4L837.0 284.1L839.0 281.8L841.0 279.6L843.1 277.3L845.1 275.1L847.2 272.9L849.3 270.8L851.5 268.6L853.7 266.5L855.9 264.5L858.1 262.4L860.3 260.4L862.6 258.5L864.9 256.5L867.2 254.6L869.5 252.7L871.9 250.9L874.3 249.1L876.7 247.3L879.2 245.6L881.6 244.0L884.1 242.3L886.6 240.7L889.2 239.2L891.8 237.7L894.3 236.2L897.0 234.8L899.6 233.5L902.3 232.1L904.9 230.9L907.6 229.7L910.4 228.5L913.1 227.4L915.9 226.3L918.7 225.3L921.5 224.3L924.3 223.3L927.1 222.4L930.0 221.6L932.9 220.8L935.8 220.0L938.7 219.3L941.6 218.6L944.5 218.0L947.4 217.4L950.4 216.9L953.4 216.3L956.3 215.9L959.3 215.4L962.3 215.1L965.3 214.7L968.3 214.4L971.3 214.2L974.3 214.2L977.3 214.2L980.3 214.2L983.4 214.2L986.4 214.2L989.4 214.2L992.5 214.2L995.5 214.2L998.5 214.2L1001.5 214.2L1004.6 214.2L1007.6 214.2L1010.6 214.2L1013.6 214.2L1016.6 214.2" fill="none" stroke="#ff0000" stroke-width="1.5" stroke-linejoin="round"/>
<path d="M366.4 1398.3L369.4 1397.7L372.3 1397.0L375.3 1396.3L378.2 1395.5L381.1 1394.8L384.0 1394.0L386.9 1393.2L389.8 1392.3L392.6 1391.5L395.5 1390.6L398.4 1389.7L401.2 1388.7L404.0 1387.7L406.9 1386.7L409.7 1385.7L412.5 1384.7L415.3 1383.6L418.1 1382.5L420.8 1381.4L423.6 1380.3L426.4 1379.1L429.1 1377.9L431.8 1376.7L434.6 1375.4L437.3 1374.2L440.0 1372.9L442.7 1371.6L445.3 1370.3L448.0 1368.9L450.7 1367.5L453.3 1366.1L455.9 1364.7L458.5 1363.2L461.1 1361.8L463.7 1360.3L466.3 1358.7L468.9 1357.2L471.4 1355.6L474.0 1354.1L476.5 1352.5L479.0 1350.8L481.5 1349.2L484.0 1347.5L486.5 1345.8L488.9 1344.1L491.4 1342.4L493.8 1340.6L496.2 1338.8L498.6 1337.0L501.0 1335.2L503.4 1333.4L505.7 1331.5L508.1 1329.6L510.4 1327.7L512.7 1325.8L515.0 1323.9L517.3 1321.9L519.6 1319.9L521.8 1317.9L524.0 1315.9L526.3 1313.9L528.5 1311.8L530.6 1309.7L532.8 1307.6L535.0 1305.5L537.1 1303.4L539.2 1301.2L541.3 1299.1L543.4 1296.9L545.5 1294.7L547.6 1292.5L549.6 1290.2L551.7 1288.0L553.7 1285.7L555.7 1283.5L557.7 1281.2L559.6 1278.9L561.6 1276.6L563.5 1274.2L565.4 1271.9L567.3 1269.5L569.2 1267.2L571.1 1264.8L573.0 1262.4L574.8 1260.0L576.7 1257.6L578.5 1255.2L580.3 1252.8L582.1 1250.3L583.8 1247.9L585.6 1245.4L587.3 1243.0L589.1 1240.5L590.8 1238.0L592.5 1235.5L594.2 1233.0L595.8 1230.5L597.5 1228.0L599.1 1225.5L600.8 1223.0L602.4 1220.5L604.0 1218.0L605.6 1215.4L607.1 1212.9L608.7 1210.4L610.2 1207.8L611.8 1205.3L613.3 1202.7L614.8 1200.2L616.3 1197.6L617.8 1195.0L619.3 1192.5L620.7 1189.9L622.2 1187.3L623.6 1184.7L625.1 1182.1L626.5 1179.6L627.9 1177.0L629.4 1174.4L630.8 1171.8L632.2 1169.2L633.6 1166.5L635.0 1163.9L636.3 1161.3L637.7 1158.7L639.1 1156.1L640.4 1153.4L641.8 1150.8L643.1 1148.2L644.4 1145.5L645.7 1142.9L647.0 1140.2L648.3 1137.6L649.6 1134.9L650.8 1132.3L652.0 1129.6L653.2 1127.0L654.5 1124.3L655.7 1121.6L656.9 1118.9L658.1 1116.3L659.3 1113.6L660.6 1110.9L661.8 1108.2L663.1 1105.5L664.3 1102.8L665.6 1100.1L666.9 1097.4L668.2 1094.7L669.5 1092.0L670.8 1089.3L672.1 1086.6L673.4 1083.9L674.7 1081.2L676.0 1078.5L677.3 1075.8L678.6 1073.1L679.8 1070.3L681.1 1067.6L682.4 1064.9L683.6 1062.1L684.9 1059.4L686.1 1056.7L687.3 1053.9L688.5 1051.2L689.7 1048.5L690.9 1045.7L692.1 1043.0L693.3 1040.2L694.5 1037.5L695.7 1034.7L696.8 1032.0L698.0 1029.2L699.2 1026.5L700.3 1023.7L701.5 1020.9L702.6 1018.2L703.8 1015.4L704.9 1012.6L706.1 1009.9L707.2 1007.1L708.4 1004.3L709.5 1001.6L710.6 998.8L711.8 996.0L712.9 993.2L714.1 990.5L715.2 987.7L716.4 984.9L717.5 982.1L718.7 979.4L719.8 976.6L720.9 973.8L722.1 971.0L723.2 968.2L724.4 965.4L725.5 962.6L726.7 959.9L727.8 957.1L729.0 954.3L730.1 951.5L731.2 948.7L732.4 945.9L733.5 943.1L734.7 940.3L735.8 937.5L737.0 934.7L738.1 931.9L739.2 929.1L740.4 926.4L741.5 923.6L742.7 920.8L743.8 918.0L745.0 915.2L746.1 912.4L747.2 909.6L748.4 906.8L749.5 904.0L750.6 901.2L751.8 898.4L752.9 895.6L754.1 892.8L755.2 890.0L756.3 887.2L757.5 884.4L758.6 881.6L759.7 878.8L760.9 876.0L762.0 873.2L763.1 870.4L764.3 867.6L765.4 864.9L766.5 862.1L767.7 859.3L768.8 856.5L769.9 853.7L771.0 850.9L772.2 848.1L773.3 845.3L774.4 842.5L775.6 839.7L776.7 836.9L777.8 834.2L779.0 831.4L780.1 828.6L781.2 825.8L782.4 823.0L783.5 820.2L784.6 817.4L785.8 814.6L786.9 811.9L788.0 809.1L789.2 806.3L790.3 803.5L791.4 800.7L792.6 797.9L793.7 795.2L794.9 792.4L796.0 789.6L797.1 786.8L798.3 784.0L799.4 781.3L800.6 778.5L801.7 775.7L802.9 772.9L804.0 770.2L805.1 767.4L806.3 764.6L807.4 761.9L808.6 759.1L809.8 756.3L810.9 753.5L812.1 750.8L813.2 748.0L814.4 745.2L815.5 742.5L816.7 739.7L817.9 736.9L819.0 734.2L820.2 731.4L821.4 728.7L822.5 725.9L823.7 723.2L824.9 720.4L826.1 717.6L827.2 714.9L828.4 712.1L829.6 709.4L830.8 706.6L832.0 703.9L833.2 701.1L834.4 698.4L835.5 695.6L836.7 692.9L837.9 690.2L839.1 687.4L840.3 684.7L841.5 681.9L842.8 679.2L844.0 676.5L845.2 673.7L846.4 671.0L847.6 668.3L848.8 665.5L850.1 662.8L851.3 660.1L852.5 657.3L853.7 654.6L855.0 651.9L856.2 649.2L857.5 646.4L858.7 643.7L860.0 641.0L861.2 638.3L862.5 635.6L863.7 632.9L865.0 630.2L866.2 627.4L867.5 624.7L868.8 622.0L870.1 619.3L871.3 616.6L872.6 613.9L873.9 611.2L875.2 608.5L876.5 605.8L877.8 603.1L879.1 600.4L880.4 597.8L881.7 595.1L883.0 592.4L884.3 589.7L885.7 587.0L887.0 584.3L888.3 581.6L889.7 579.0L891.0 576.3L892.4 573.6L893.7 570.9L895.1 568.3L896.4 565.6L897.8 562.9L899.2 560.3L900.5 557.6L901.9 555.0L903.3 552.3L904.7 549.6L906.1 547.0L907.5 544.3L908.9 541.7L910.3 539.0L911.7 536.4L913.1 533.8L914.6 531.1L916.0 528.5L917.4 525.8L918.9 523.2L920.3 520.6L921.8 518.0L923.2 515.3L924.7 512.7L926.2 510.1L927.6 507.5L929.1 504.8L930.6 502.2L932.1 499.6L933.6 497.0L935.1 494.4L936.6 491.8L938.2 489.2L939.7 486.6L941.2 484.0L942.8 481.4L944.3 478.8L945.9 476.3L947.4 473.7L949.0 471.1L950.6 468.5L952.1 466.0L953.7 463.4L955.3 460.9L956.9 458.3L958.5 455.8L960.2 453.2L961.8 450.7L963.4 448.2L965.1 445.6L966.7 443.1L968.4 440.6L970.1 438.1L971.7 435.6L973.4 433.1L975.1 430.6L976.8 428.1L978.5 425.6L980.2 423.2L982.0 420.7L983.7 418.3L985.4 415.8L987.2 413.4L989.0 410.9L990.7 408.5L992.5 406.1L994.3 403.7L996.1 401.3L997.9 398.9L999.7 396.5L1001.6 394.1L1003.4 391.7L1005.3 389.4L1007.1 387.0L1009.0 384.6L1010.9 382.3L1012.8 380.0L1014.7 377.7L1016.6 375.3L1018.5 373.0L1020.4 370.7L1022.4 368.5L1024.3 366.2L1026.3 363.9L1028.3 361.7L1030.2 359.4L1032.2 357.2L1034.2 355.0L1036.3 352.7L1038.3 350.5L1040.3 348.3L1042.3 346.1L1044.4 343.9L1046.5 341.8L1048.5 339.6L1050.6 337.4L1052.7 335.3L1054.7 333.1L1056.8 331.0L1058.9 328.9L1061.0 326.7L1063.1 324.6L1065.2 322.5L1067.4 320.4L1069.5 318.3L1071.6 316.2L1073.7 314.1L1075.9 312.1L1078.0 310.0L1080.2 307.9L1082.3 305.9L1084.5 303.8L1086.6 301.8L1088.8 299.8L1091.0 297.7L1093.1 295.7L1095.3 293.7L1097.5 291.7L1099.7 289.7L1102.0 287.7L1104.2 285.8L1106.4 283.8L1108.7 281.9L1111.0 279.9L1113.2 278.0L1115.5 276.1L1117.8 274.2L1120.1 272.3L1122.5 270.4L1124.8 268.5L1127.2 266.6L1129.5 264.8L1131.9 262.9L1134.3 261.1L1136.8 259.3L1139.2 257.5L1141.7 255.7L1144.2 253.9L1146.7 252.2" fill="none" stroke="#000000" stroke-width="1.5" stroke-linejoin="round"/>
<path d="M280.5 1399.9L283.6 1400.1L286.6 1400.2L289.7 1400.3L292.7 1400.3L295.8 1400.4L298.8 1400.4L301.8 1400.5L304.8 1400.4L307.9 1400.4L310.9 1400.4L313.9 1400.3L316.9 1400.2L319.9 1400.1L322.8 1400.0L325.8 1399.9L328.8 1399.8L331.8 1399.6L334.7 1399.4L337.7 1399.3L340.7 1399.1L343.6 1398.9L346.6 1398.6L349.6 1398.4L352.5 1398.2L355.5 1397.9L358.4 1397.7L361.4 1397.4L364.3 1397.1L367.3 1396.8L370.2 1396.5L373.2 1396.3L376.1 1396.0L379.1 1395.6L382.0 1395.3L385.0 1395.0L387.9 1394.7L390.9 1394.4L393.8 1394.1L396.8 1393.7L399.8 1393.4L402.7 1393.1L405.7 1392.8L408.7 1392.4L411.6 1392.1L414.6 1391.8L417.6 1391.5L420.6 1391.1L423.6 1390.8L426.6 1390.5L429.6 1390.2L432.6 1389.9L435.6 1389.6L438.6 1389.3L441.7 1389.1L444.7 1388.8L447.7 1388.5L450.8 1388.2L453.8 1388.0L456.9 1387.7L459.9 1387.4L463.0 1387.1L466.0 1386.9L469.1 1386.6L472.1 1386.3L475.2 1386.0L478.2 1385.6L481.2 1385.3L484.3 1385.0L487.3 1384.6L490.3 1384.2L493.4 1383.8L496.4 1383.4L499.4 1382.9L502.4 1382.5L505.4 1382.0L508.3 1381.4L511.3 1380.9L514.3 1380.3L517.2 1379.7L520.1 1379.0L523.0 1378.3L526.0 1377.6L528.8 1376.9L531.7 1376.1L534.6 1375.2L537.4 1374.3L540.2 1373.4L543.0 1372.4L545.8 1371.4L548.6 1370.4L551.3 1369.3L554.0 1368.1L556.7 1366.9L559.4 1365.7L562.0 1364.4L564.7 1363.0L567.2 1361.6L569.8 1360.2L572.3 1358.7L574.8 1357.2L577.3 1355.6L579.7 1354.0L582.1 1352.3L584.5 1350.6L586.8 1348.8L589.1 1346.9L591.4 1345.0L593.6 1343.1L595.8 1341.1L598.0 1339.1L600.1 1337.0L602.2 1334.9L604.2 1332.8L606.2 1330.6L608.2 1328.3L610.1 1326.1L612.1 1323.8L613.9 1321.4L615.8 1319.1L617.6 1316.7L619.4 1314.3L621.1 1311.8L622.8 1309.4L624.5 1306.9L626.2 1304.4L627.8 1301.9L629.4 1299.3L630.9 1296.8L632.5 1294.2L634.0 1291.6L635.5 1289.0L636.9 1286.3L638.4 1283.7L639.8 1281.0L641.2 1278.4L642.5 1275.7L643.9 1273.0L645.2 1270.3L646.5 1267.5L647.8 1264.8L649.1 1262.1L650.3 1259.3L651.5 1256.5L652.8 1253.8L654.0 1251.0L655.2 1248.2L656.3 1245.4L657.5 1242.6L658.7 1239.8L659.8 1237.0L661.0 1234.2L662.1 1231.4L663.2 1228.6L664.3 1225.8L665.5 1223.0L666.6 1220.1L667.7 1217.3L668.8 1214.5L669.9 1211.7L671.0 1208.9L672.1 1206.1L673.1 1203.2L674.2 1200.4L675.3 1197.6L676.4 1194.8L677.4 1192.0L678.5 1189.2L679.5 1186.3L680.6 1183.5L681.6 1180.7L682.7 1177.9L683.7 1175.1L684.8 1172.2L685.8 1169.4L686.8 1166.6L687.8 1163.8L688.9 1161.0L689.9 1158.1L690.9 1155.3L691.9 1152.5L692.9 1149.7L693.9 1146.8L694.9 1144.0L695.9 1141.2L696.9 1138.4L697.9 1135.5L698.9 1132.7L699.8 1129.9L700.8 1127.1L701.8 1124.2L702.8 1121.4L703.7 1118.6L704.7 1115.8L705.7 1112.9L706.6 1110.1L707.6 1107.3L708.5 1104.4L709.5 1101.6L710.4 1098.8L711.4 1095.9L712.3 1093.1L713.3 1090.3L714.2 1087.4L715.1 1084.6L716.1 1081.8L717.0 1078.9L717.9 1076.1L718.9 1073.3L719.8 1070.4L720.7 1067.6L721.6 1064.7L722.5 1061.9L723.4 1059.1L724.4 1056.2L725.3 1053.4L726.2 1050.5L727.1 1047.7L728.0 1044.8L728.9 1042.0L729.8 1039.1L730.7 1036.3L731.6 1033.4L732.5 1030.6L733.4 1027.8L734.3 1024.9L735.2 1022.0L736.0 1019.2L736.9 1016.3L737.8 1013.5L738.7 1010.6L739.6 1007.8L740.5 1004.9L741.4 1002.1L742.2 999.2L743.1 996.3L744.0 993.5L744.9 990.6L745.7 987.8L746.6 984.9L747.5 982.0L748.4 979.2L749.2 976.3L750.1 973.4L751.0 970.6L751.9 967.7L752.7 964.8L753.6 962.0L754.5 959.1L755.3 956.2L756.2 953.3L757.0 950.5L757.9 947.6L758.8 944.7L759.6 941.8L760.5 939.0L761.4 936.1L762.2 933.2L763.1 930.3L763.9 927.5L764.8 924.6L765.7 921.7L766.5 918.8L767.4 915.9L768.2 913.1L769.1 910.2L769.9 907.3L770.8 904.4L771.6 901.5L772.5 898.7L773.4 895.8L774.2 892.9L775.1 890.0L775.9 887.1L776.8 884.2L777.6 881.3L778.5 878.5L779.3 875.6L780.2 872.7L781.0 869.8L781.9 866.9L782.7 864.0L783.6 861.1L784.4 858.3L785.3 855.4L786.1 852.5L787.0 849.6L787.8 846.7L788.7 843.8L789.5 840.9L790.4 838.0L791.2 835.2L792.1 832.3L793.0 829.4L793.8 826.5L794.7 823.6L795.5 820.7L796.4 817.8L797.2 814.9L798.1 812.0L798.9 809.2L799.8 806.3L800.6 803.4L801.5 800.5L802.3 797.6L803.2 794.7L804.0 791.8L804.9 788.9L805.8 786.1L806.6 783.2L807.5 780.3L808.3 777.4L809.2 774.5L810.1 771.6L810.9 768.7L811.8 765.9L812.6 763.0L813.5 760.1L814.4 757.2L815.2 754.3L816.1 751.4L816.9 748.6L817.8 745.7L818.7 742.8L819.5 739.9L820.4 737.0L821.3 734.1L822.2 731.3L823.0 728.4L823.9 725.5L824.8 722.6L825.6 719.7L826.5 716.9L827.4 714.0L828.3 711.1L829.1 708.2L830.0 705.4L830.9 702.5L831.8 699.6L832.7 696.7L833.5 693.9L834.4 691.0L835.3 688.1L836.2 685.3L837.1 682.4L838.0 679.5L838.9 676.7L839.8 673.8L840.7 670.9L841.6 668.1L842.4 665.2L843.3 662.3L844.2 659.5L845.1 656.6L846.0 653.7L846.9 650.9L847.9 648.0L848.8 645.2L849.7 642.3L850.6 639.5L851.5 636.6L852.4 633.7L853.3 630.9L854.2 628.0L855.2 625.2L856.1 622.3L857.0 619.5L857.9 616.6L858.8 613.8L859.8 610.9L860.7 608.1L861.6 605.3L862.6 602.4L863.5 599.6L864.5 596.7L865.4 593.9L866.4 591.1L867.3 588.2L868.3 585.4L869.2 582.6L870.2 579.7L871.1 576.9L872.1 574.1L873.1 571.2L874.1 568.4L875.0 565.6L876.0 562.8L877.0 559.9L878.0 557.1L879.0 554.3L880.0 551.5L881.0 548.7L882.0 545.9L883.0 543.1L884.0 540.2L885.0 537.4L886.0 534.6L887.1 531.8L888.1 529.0L889.1 526.2L890.1 523.4L891.2 520.6L892.2 517.8L893.3 515.0L894.3 512.2L895.4 509.4L896.5 506.6L897.5 503.8L898.6 501.1L899.7 498.3L900.8 495.5L901.9 492.7L903.0 489.9L904.1 487.1L905.2 484.4L906.3 481.6L907.4 478.8L908.5 476.0L909.6 473.3L910.8 470.5L911.9 467.7L913.1 465.0L914.2 462.2L915.4 459.5L916.5 456.7L917.7 454.0L918.9 451.2L920.0 448.4L921.2 445.7L922.4 443.0L923.6 440.2L924.8 437.5L926.0 434.7L927.3 432.0L928.5 429.3L929.7 426.5L931.0 423.8L932.2 421.1L933.5 418.3L934.7 415.6L936.0 412.9L937.3 410.2L938.6 407.4L939.8 404.7L941.1 402.0L942.4 399.3L943.8 396.6L945.1 393.9L946.4 391.2L947.7 388.5L949.1 385.8L950.4 383.1L951.8 380.4L953.2 377.7L954.5 375.0L955.9 372.3L957.3 369.6L958.7 367.0L960.1 364.3L961.5 361.6L962.9 358.9L964.4 356.3L965.8 353.6L967.3 350.9L968.7 348.3L970.2 345.6L971.7 342.9L973.1 340.3L974.6 337.7L976.2 335.0L977.7 332.4L979.2 329.8L980.8 327.1L982.3 324.5L983.9 321.9L985.5 319.4L987.1 316.8L988.7 314.2L990.3 311.7L992.0 309.2L993.7 306.7L995.4 304.2L997.1 301.7L998.8 299.2L1000.5 296.8L1002.3 294.4L1004.1 292.0L1005.9 289.6L1007.8 287.3L1009.6 285.0L1011.5 282.7L1013.4 280.4L1015.4 278.2L1017.3 276.0L1019.3 273.8L1021.3 271.6L1023.4 269.5L1025.5 267.4L1027.6 265.4L1029.7 263.4L1031.9 261.4L1034.1 259.4L1036.3 257.5L1038.6 255.6L1040.9 253.8L1043.2 252.0L1045.5 250.3L1047.9 248.6L1050.4 246.9L1052.8 245.3L1055.3 243.7L1057.9 242.1L1060.5 240.6L1063.1 239.2L1065.7 237.8L1068.4 236.4L1071.1 235.1L1073.8 233.8L1076.5 232.6L1079.3 231.4L1082.1 230.2L1084.9 229.1L1087.7 228.0L1090.6 226.9L1093.5 225.9L1096.4 225.0L1099.3 224.1L1102.2 223.2L1105.1 222.3L1108.0 221.5L1111.0 220.7L1113.9 220.0L1116.9 219.3L1119.9 218.6L1122.9 218.0L1125.8 217.4L1128.8 216.8L1131.8 216.3L1134.8 215.8L1137.8 215.4L1140.7 214.9L1143.7 214.6L1146.7 214.2" fill="none" stroke="#ff0000" stroke-width="1.5" stroke-linejoin="round"/>
<path d="M280.5 1391.2L283.4 1390.8L286.3 1390.3L289.2 1389.8L292.1 1389.2L295.0 1388.6L298.0 1388.0L300.9 1387.4L303.8 1386.8L306.7 1386.1L309.6 1385.4L312.6 1384.6L315.5 1383.9L318.4 1383.1L321.3 1382.2L324.2 1381.4L327.1 1380.5L330.0 1379.6L332.9 1378.6L335.8 1377.6L338.7 1376.6L341.5 1375.6L344.4 1374.5L347.2 1373.4L350.1 1372.3L352.9 1371.1L355.7 1370.0L358.5 1368.7L361.3 1367.5L364.1 1366.2L366.8 1364.9L369.5 1363.6L372.3 1362.2L375.0 1360.8L377.6 1359.4L380.3 1357.9L382.9 1356.4L385.5 1354.9L388.1 1353.3L390.7 1351.8L393.2 1350.1L395.8 1348.5L398.3 1346.8L400.7 1345.1L403.2 1343.4L405.6 1341.6L408.0 1339.8L410.3 1337.9L412.6 1336.1L414.9 1334.2L417.2 1332.2L419.4 1330.3L421.6 1328.3L423.8 1326.3L425.9 1324.2L428.1 1322.2L430.1 1320.1L432.2 1317.9L434.2 1315.8L436.3 1313.6L438.2 1311.4L440.2 1309.2L442.1 1306.9L444.0 1304.6L445.9 1302.3L447.8 1300.0L449.6 1297.7L451.4 1295.3L453.2 1292.9L455.0 1290.5L456.8 1288.1L458.5 1285.7L460.2 1283.2L461.9 1280.7L463.5 1278.2L465.2 1275.7L466.8 1273.2L468.4 1270.7L470.0 1268.1L471.6 1265.6L473.1 1263.0L474.6 1260.4L476.2 1257.8L477.7 1255.2L479.1 1252.5L480.6 1249.9L482.1 1247.3L483.5 1244.6L484.9 1241.9L486.3 1239.3L487.7 1236.6L489.1 1233.9L490.5 1231.2L491.8 1228.5L493.2 1225.8L494.5 1223.1L495.8 1220.4L497.1 1217.7L498.4 1215.0L499.7 1212.3L501.0 1209.5L502.2 1206.8L503.5 1204.1L504.7 1201.3L505.9 1198.6L507.1 1195.8L508.4 1193.1L509.5 1190.3L510.7 1187.6L511.9 1184.8L513.1 1182.1L514.2 1179.3L515.4 1176.5L516.5 1173.8L517.6 1171.0L518.8 1168.2L519.9 1165.4L521.0 1162.6L522.1 1159.8L523.2 1157.0L524.2 1154.3L525.3 1151.5L526.4 1148.7L527.4 1145.8L528.5 1143.0L529.5 1140.2L530.5 1137.4L531.5 1134.6L532.6 1131.8L533.6 1129.0L534.6 1126.1L535.6 1123.3L536.5 1120.5L537.5 1117.7L538.5 1114.8L539.5 1112.0L540.4 1109.1L541.4 1106.3L542.3 1103.5L543.3 1100.6L544.2 1097.8L545.2 1094.9L546.1 1092.1L547.0 1089.2L547.9 1086.4L548.8 1083.5L549.8 1080.7L550.7 1077.8L551.6 1074.9L552.5 1072.1L553.3 1069.2L554.2 1066.4L555.1 1063.5L556.0 1060.6L556.9 1057.8L557.8 1054.9L558.6 1052.0L559.5 1049.1L560.4 1046.3L561.2 1043.4L562.1 1040.5L562.9 1037.6L563.8 1034.8L564.6 1031.9L565.5 1029.0L566.4 1026.1L567.2 1023.2L568.0 1020.4L568.9 1017.5L569.7 1014.6L570.6 1011.7L571.4 1008.8L572.3 1005.9L573.1 1003.1L573.9 1000.2L574.8 997.3L575.6 994.4L576.5 991.5L577.3 988.6L578.1 985.8L579.0 982.9L579.8 980.0L580.6 977.1L581.5 974.2L582.3 971.3L583.2 968.4L584.0 965.5L584.8 962.7L585.7 959.8L586.5 956.9L587.3 954.0L588.2 951.1L589.0 948.2L589.8 945.3L590.7 942.5L591.5 939.6L592.3 936.7L593.2 933.8L594.0 930.9L594.8 928.0L595.7 925.1L596.5 922.2L597.4 919.3L598.2 916.5L599.0 913.6L599.9 910.7L600.7 907.8L601.5 904.9L602.4 902.0L603.2 899.1L604.0 896.2L604.9 893.4L605.7 890.5L606.5 887.6L607.4 884.7L608.2 881.8L609.0 878.9L609.9 876.0L610.7 873.1L611.5 870.3L612.4 867.4L613.2 864.5L614.0 861.6L614.9 858.7L615.7 855.8L616.5 852.9L617.4 850.0L618.2 847.2L619.0 844.3L619.9 841.4L620.7 838.5L621.6 835.6L622.4 832.7L623.2 829.8L624.1 827.0L624.9 824.1L625.7 821.2L626.6 818.3L627.4 815.4L628.2 812.5L629.1 809.6L629.9 806.8L630.8 803.9L631.6 801.0L632.4 798.1L633.3 795.2L634.1 792.3L634.9 789.5L635.8 786.6L636.6 783.7L637.5 780.8L638.3 777.9L639.1 775.0L640.0 772.2L640.8 769.3L641.7 766.4L642.5 763.5L643.3 760.6L644.2 757.8L645.0 754.9L645.9 752.0L646.7 749.1L647.6 746.2L648.4 743.4L649.3 740.5L650.1 737.6L650.9 734.7L651.8 731.9L652.6 729.0L653.5 726.1L654.3 723.2L655.2 720.4L656.0 717.5L656.9 714.6L657.7 711.7L658.6 708.9L659.4 706.0L660.3 703.1L661.1 700.2L662.0 697.4L662.8 694.5L663.7 691.6L664.5 688.8L665.4 685.9L666.2 683.0L667.1 680.1L667.9 677.3L668.8 674.4L669.7 671.5L670.5 668.7L671.4 665.8L672.2 662.9L673.1 660.1L673.9 657.2L674.8 654.4L675.7 651.5L676.5 648.6L677.4 645.8L678.3 642.9L679.1 640.0L680.0 637.2L680.9 634.3L681.7 631.5L682.6 628.6L683.5 625.7L684.4 622.9L685.3 620.0L686.1 617.2L687.0 614.3L687.9 611.5L688.8 608.6L689.7 605.8L690.6 602.9L691.5 600.0L692.4 597.2L693.3 594.3L694.2 591.5L695.1 588.6L696.0 585.8L696.9 582.9L697.8 580.1L698.7 577.2L699.6 574.4L700.5 571.6L701.5 568.7L702.4 565.9L703.3 563.0L704.2 560.2L705.2 557.3L706.1 554.5L707.0 551.7L708.0 548.8L708.9 546.0L709.9 543.1L710.8 540.3L711.8 537.5L712.8 534.6L713.7 531.8L714.7 529.0L715.7 526.1L716.6 523.3L717.6 520.5L718.6 517.6L719.6 514.8L720.6 512.0L721.6 509.2L722.6 506.3L723.6 503.5L724.6 500.7L725.6 497.8L726.6 495.0L727.6 492.2L728.6 489.4L729.7 486.6L730.7 483.7L731.7 480.9L732.8 478.1L733.8 475.3L734.9 472.5L735.9 469.7L737.0 466.8L738.1 464.0L739.2 461.2L740.2 458.4L741.3 455.6L742.4 452.8L743.5 450.0L744.6 447.2L745.7 444.4L746.8 441.6L747.9 438.8L749.0 436.0L750.2 433.2L751.3 430.3L752.4 427.5L753.6 424.8L754.7 422.0L755.9 419.2L757.1 416.4L758.2 413.6L759.4 410.8L760.6 408.0L761.8 405.2L763.0 402.4L764.2 399.6L765.4 396.9L766.6 394.1L767.9 391.3L769.1 388.6L770.4 385.8L771.6 383.1L772.9 380.3L774.2 377.6L775.5 374.8L776.8 372.1L778.2 369.4L779.5 366.7L780.9 364.0L782.3 361.4L783.7 358.7L785.1 356.0L786.5 353.4L788.0 350.7L789.4 348.1L790.9 345.5L792.4 342.9L793.9 340.3L795.5 337.8L797.0 335.2L798.6 332.7L800.2 330.1L801.8 327.6L803.5 325.1L805.2 322.7L806.8 320.2L808.6 317.8L810.3 315.4L812.1 313.0L813.9 310.6L815.7 308.2L817.5 305.9L819.4 303.6L821.3 301.3L823.2 299.0L825.2 296.7L827.1 294.5L829.1 292.3L831.2 290.1L833.2 287.9L835.3 285.8L837.5 283.7L839.6 281.6L841.8 279.5L844.0 277.5L846.2 275.5L848.4 273.5L850.7 271.6L853.0 269.6L855.3 267.7L857.7 265.9L860.0 264.1L862.4 262.2L864.8 260.5L867.3 258.7L869.7 257.0L872.2 255.3L874.7 253.7L877.2 252.1L879.7 250.5L882.3 249.0L884.9 247.5L887.5 246.0L890.1 244.6L892.7 243.2L895.4 241.8L898.0 240.5L900.7 239.2L903.4 238.0L906.1 236.8L908.8 235.6L911.6 234.5L914.4 233.4L917.1 232.3L919.9 231.3L922.7 230.3L925.5 229.4L928.4 228.5L931.2 227.7L934.1 226.8L936.9 226.1L939.8 225.3L942.7 224.6L945.6 223.9L948.5 223.2L951.4 222.6L954.4 222.0L957.3 221.5L960.3 220.9L963.2 220.4L966.2 219.9L969.1 219.5L972.1 219.1L975.1 218.7L978.1 218.3L981.1 217.9L984.1 217.6L987.1 217.3L990.1 217.0L993.2 216.7L996.2 216.5L999.2 216.3L1002.2 216.1L1005.3 215.9L1008.3 215.7L1011.3 215.5L1014.4 215.4L1017.4 215.3L1020.5 215.1L1023.5 215.0L1026.6 215.0L1029.6 214.9L1032.7 214.8L1035.7 214.8L1038.7 214.7L1041.8 214.7L1044.8 214.6L1047.8 214.6L1050.9 214.6L1053.9 214.6L1056.9 214.6L1060.0 214.6L1063.0 214.6L1066.0 214.6L1069.0 214.6L1072.0 214.6L1075.0 214.6L1078.0 214.6L1081.0 214.6L1084.0 214.6L1087.0 214.6L1089.9 214.6L1092.9 214.6L1095.9 214.6L1098.9 214.6L1101.8 214.6L1104.8 214.6L1107.8 214.6L1110.8 214.6L1113.7 214.6L1116.7 214.6L1119.7 214.6L1122.7 214.6L1125.7 214.5L1128.7 214.5L1131.6 214.5L1134.6 214.4L1137.6 214.4L1140.6 214.3L1143.6 214.3L1146.7 214.2" fill="none" stroke="#000000" stroke-width="1.5" stroke-linejoin="round"/>
<path d="M366.4 1400.7L369.4 1400.3L372.3 1399.9L375.3 1399.5L378.2 1399.2L381.2 1398.9L384.1 1398.6L387.1 1398.3L390.1 1398.0L393.0 1397.8L396.0 1397.6L399.0 1397.4L402.0 1397.2L404.9 1397.0L407.9 1396.8L410.9 1396.6L413.9 1396.5L416.9 1396.4L419.9 1396.2L422.9 1396.1L425.9 1396.0L428.9 1395.9L431.9 1395.8L434.9 1395.7L437.9 1395.6L440.9 1395.6L443.9 1395.5L446.9 1395.4L450.0 1395.3L453.0 1395.3L456.0 1395.2L459.0 1395.1L462.0 1395.1L465.1 1395.0L468.1 1394.9L471.1 1394.8L474.1 1394.8L477.2 1394.7L480.2 1394.6L483.2 1394.5L486.2 1394.4L489.3 1394.2L492.3 1394.1L495.3 1394.0L498.3 1393.8L501.4 1393.7L504.4 1393.5L507.4 1393.3L510.5 1393.1L513.5 1392.9L516.5 1392.7L519.5 1392.4L522.6 1392.2L525.6 1391.9L528.6 1391.6L531.6 1391.3L534.7 1390.9L537.7 1390.6L540.7 1390.2L543.7 1389.8L546.7 1389.4L549.7 1388.9L552.7 1388.4L555.7 1387.9L558.7 1387.4L561.6 1386.8L564.6 1386.2L567.6 1385.6L570.5 1385.0L573.5 1384.3L576.4 1383.6L579.3 1382.8L582.2 1382.1L585.1 1381.3L588.0 1380.4L590.8 1379.5L593.7 1378.6L596.5 1377.6L599.4 1376.6L602.2 1375.6L605.0 1374.5L607.7 1373.4L610.5 1372.3L613.2 1371.1L616.0 1369.8L618.7 1368.5L621.3 1367.2L624.0 1365.8L626.7 1364.4L629.3 1363.0L631.9 1361.5L634.5 1359.9L637.0 1358.4L639.6 1356.8L642.1 1355.1L644.6 1353.5L647.1 1351.7L649.5 1350.0L651.9 1348.2L654.3 1346.4L656.7 1344.5L659.1 1342.7L661.4 1340.8L663.7 1338.8L665.9 1336.8L668.2 1334.8L670.4 1332.8L672.6 1330.8L674.8 1328.7L676.9 1326.5L679.0 1324.4L681.1 1322.2L683.1 1320.1L685.1 1317.8L687.1 1315.6L689.1 1313.3L691.0 1311.0L692.9 1308.7L694.7 1306.4L696.6 1304.1L698.4 1301.7L700.2 1299.3L701.9 1296.9L703.7 1294.5L705.4 1292.0L707.1 1289.6L708.7 1287.1L710.3 1284.6L712.0 1282.1L713.6 1279.5L715.1 1277.0L716.7 1274.5L718.2 1271.9L719.7 1269.3L721.2 1266.7L722.7 1264.1L724.1 1261.5L725.6 1258.9L727.0 1256.3L728.4 1253.7L729.8 1251.0L731.2 1248.4L732.6 1245.7L733.9 1243.1L735.3 1240.4L736.6 1237.7L737.9 1235.1L739.2 1232.4L740.5 1229.7L741.8 1227.0L743.1 1224.3L744.3 1221.6L745.5 1218.8L746.8 1216.1L748.0 1213.4L749.2 1210.7L750.4 1207.9L751.6 1205.2L752.7 1202.4L753.9 1199.7L755.0 1196.9L756.2 1194.1L757.3 1191.4L758.4 1188.6L759.5 1185.8L760.6 1183.0L761.7 1180.2L762.8 1177.4L763.8 1174.6L764.9 1171.8L765.9 1169.0L767.0 1166.2L768.0 1163.3L769.0 1160.5L770.0 1157.7L771.0 1154.9L772.0 1152.0L773.0 1149.2L774.0 1146.3L774.9 1143.5L775.9 1140.6L776.9 1137.8L777.8 1134.9L778.7 1132.1L779.7 1129.2L780.6 1126.3L781.5 1123.5L782.4 1120.6L783.3 1117.7L784.2 1114.8L785.1 1111.9L786.0 1109.1L786.9 1106.2L787.8 1103.3L788.6 1100.4L789.5 1097.5L790.3 1094.6L791.2 1091.7L792.0 1088.8L792.9 1085.9L793.7 1083.0L794.6 1080.1L795.4 1077.2L796.2 1074.3L797.0 1071.4L797.9 1068.4L798.7 1065.5L799.5 1062.6L800.3 1059.7L801.1 1056.8L801.9 1053.9L802.7 1050.9L803.5 1048.0L804.3 1045.1L805.1 1042.2L805.9 1039.3L806.6 1036.3L807.4 1033.4L808.2 1030.5L809.0 1027.6L809.8 1024.7L810.5 1021.7L811.3 1018.8L812.1 1015.9L812.9 1013.0L813.7 1010.0L814.4 1007.1L815.2 1004.2L816.0 1001.3L816.7 998.4L817.5 995.5L818.3 992.5L819.1 989.6L819.8 986.7L820.6 983.8L821.4 980.9L822.2 978.0L823.0 975.1L823.7 972.1L824.5 969.2L825.3 966.3L826.1 963.4L826.8 960.5L827.6 957.6L828.4 954.7L829.2 951.8L830.0 948.9L830.7 946.0L831.5 943.1L832.3 940.2L833.1 937.3L833.8 934.4L834.6 931.5L835.4 928.6L836.2 925.7L837.0 922.8L837.7 919.9L838.5 917.0L839.3 914.1L840.1 911.2L840.9 908.3L841.7 905.4L842.4 902.5L843.2 899.6L844.0 896.7L844.8 893.8L845.6 890.9L846.3 888.0L847.1 885.1L847.9 882.2L848.7 879.3L849.5 876.5L850.2 873.6L851.0 870.7L851.8 867.8L852.6 864.9L853.4 862.0L854.2 859.1L854.9 856.2L855.7 853.3L856.5 850.4L857.3 847.5L858.1 844.7L858.9 841.8L859.6 838.9L860.4 836.0L861.2 833.1L862.0 830.2L862.8 827.3L863.5 824.4L864.3 821.5L865.1 818.6L865.9 815.7L866.7 812.9L867.5 810.0L868.2 807.1L869.0 804.2L869.8 801.3L870.6 798.4L871.4 795.5L872.2 792.6L872.9 789.7L873.7 786.8L874.5 783.9L875.3 781.1L876.1 778.2L876.8 775.3L877.6 772.4L878.4 769.5L879.2 766.6L880.0 763.7L880.7 760.8L881.5 757.9L882.3 755.0L883.1 752.1L883.9 749.2L884.7 746.3L885.4 743.4L886.2 740.6L887.0 737.7L887.8 734.8L888.6 731.9L889.4 729.0L890.2 726.1L890.9 723.2L891.7 720.3L892.5 717.4L893.3 714.5L894.1 711.6L894.9 708.7L895.7 705.8L896.5 702.9L897.3 700.0L898.1 697.1L898.9 694.3L899.7 691.4L900.5 688.5L901.3 685.6L902.1 682.7L902.9 679.8L903.7 676.9L904.5 674.0L905.3 671.1L906.1 668.2L906.9 665.3L907.7 662.4L908.5 659.5L909.3 656.7L910.1 653.8L910.9 650.9L911.7 648.0L912.6 645.1L913.4 642.2L914.2 639.3L915.0 636.4L915.9 633.5L916.7 630.6L917.5 627.8L918.3 624.9L919.2 622.0L920.0 619.1L920.8 616.2L921.7 613.3L922.5 610.4L923.4 607.5L924.2 604.7L925.0 601.8L925.9 598.9L926.7 596.0L927.6 593.1L928.4 590.2L929.3 587.4L930.2 584.5L931.0 581.6L931.9 578.7L932.7 575.8L933.6 572.9L934.5 570.1L935.4 567.2L936.2 564.3L937.1 561.4L938.0 558.5L938.9 555.7L939.8 552.8L940.7 549.9L941.5 547.0L942.4 544.2L943.3 541.3L944.2 538.4L945.1 535.5L946.0 532.7L947.0 529.8L947.9 526.9L948.8 524.1L949.7 521.2L950.6 518.3L951.5 515.5L952.5 512.6L953.4 509.7L954.3 506.9L955.3 504.0L956.2 501.1L957.2 498.3L958.1 495.4L959.1 492.5L960.0 489.7L961.0 486.8L961.9 484.0L962.9 481.1L963.9 478.2L964.8 475.4L965.8 472.5L966.8 469.7L967.8 466.8L968.8 464.0L969.8 461.1L970.8 458.3L971.8 455.4L972.8 452.6L973.8 449.7L974.8 446.9L975.9 444.1L976.9 441.2L977.9 438.4L979.0 435.6L980.0 432.7L981.1 429.9L982.2 427.1L983.3 424.3L984.3 421.5L985.4 418.7L986.6 415.9L987.7 413.1L988.8 410.3L989.9 407.5L991.1 404.7L992.2 402.0L993.4 399.2L994.6 396.4L995.8 393.7L996.9 390.9L998.2 388.2L999.4 385.4L1000.6 382.7L1001.8 380.0L1003.1 377.3L1004.4 374.5L1005.7 371.8L1006.9 369.1L1008.3 366.4L1009.6 363.8L1010.9 361.1L1012.3 358.4L1013.6 355.7L1015.0 353.1L1016.4 350.4L1017.8 347.8L1019.2 345.2L1020.6 342.6L1022.1 340.0L1023.6 337.4L1025.0 334.8L1026.5 332.2L1028.1 329.6L1029.6 327.1L1031.1 324.5L1032.7 322.0L1034.3 319.4L1035.9 316.9L1037.5 314.4L1039.1 311.9L1040.8 309.4L1042.5 306.9L1044.2 304.5L1045.9 302.0L1047.6 299.6L1049.4 297.1L1051.1 294.7L1052.9 292.3L1054.7 289.9L1056.6 287.6L1058.4 285.2L1060.3 282.9L1062.2 280.6L1064.1 278.3L1066.1 276.0L1068.0 273.8L1070.0 271.5L1072.0 269.3L1074.0 267.1L1076.1 264.9L1078.2 262.8L1080.3 260.7L1082.4 258.6L1084.5 256.5L1086.7 254.4L1088.9 252.4L1091.1 250.4L1093.4 248.4L1095.6 246.5L1097.9 244.5L1100.2 242.7L1102.6 240.8L1105.0 239.0L1107.4 237.2L1109.8 235.4L1112.2 233.7L1114.7 231.9L1117.2 230.3L1119.8 228.6L1122.3 227.0L1124.9 225.5L1127.5 223.9L1130.2 222.4L1132.8 221.0L1135.5 219.5L1138.3 218.1L1141.0 216.8L1143.8 215.5L1146.7 214.2" fill="none" stroke="#000000" stroke-width="2.8" stroke-dasharray="9.8 9.1" stroke-linejoin="round"/>
<polygon points="366.4,1353.5 350.2,1381.6 382.7,1381.6" fill="#ff0000" stroke="#ff0000" stroke-width="1.5" stroke-linejoin="round"/>
<polygon points="496.5,1239.6 480.2,1267.7 512.7,1267.7" fill="#ff0000" stroke="#ff0000" stroke-width="1.5" stroke-linejoin="round"/>
<polygon points="626.5,859.9 610.3,888.0 642.8,888.0" fill="#ff0000" stroke="#ff0000" stroke-width="1.5" stroke-linejoin="round"/>
<polygon points="756.6,362.7 740.3,390.9 772.8,390.9" fill="#ff0000" stroke="#ff0000" stroke-width="1.5" stroke-linejoin="round"/>
<polygon points="886.6,195.4 870.3,223.6 902.8,223.6" fill="#ff0000" stroke="#ff0000" stroke-width="1.5" stroke-linejoin="round"/>
<polygon points="1016.6,195.4 1000.4,223.6 1032.9,223.6" fill="#ff0000" stroke="#ff0000" stroke-width="1.5" stroke-linejoin="round"/>
<circle cx="366.4" cy="1400.7" r="13.8" fill="#ff0000"/>
<circle cx="496.5" cy="1382.9" r="13.8" fill="#ff0000"/>
<circle cx="626.5" cy="1363.9" r="13.8" fill="#ff0000"/>
<circle cx="756.6" cy="961.1" r="13.8" fill="#ff0000"/>
<circle cx="886.6" cy="499.0" r="13.8" fill="#ff0000"/>
<circle cx="1016.6" cy="240.3" r="13.8" fill="#ff0000"/>
<circle cx="1146.7" cy="214.2" r="13.8" fill="#ff0000"/>
<circle cx="366.4" cy="1375.2" r="13.8" fill="#000000"/>
<circle cx="496.5" cy="1276.1" r="13.8" fill="#000000"/>
<circle cx="626.5" cy="818.1" r="13.8" fill="#000000"/>
<circle cx="756.6" cy="364.3" r="13.8" fill="#000000"/>
<circle cx="886.6" cy="227.3" r="13.8" fill="#000000"/>
<circle cx="1016.6" cy="214.2" r="13.8" fill="#000000"/>
<circle cx="1146.7" cy="214.2" r="13.8" fill="#000000"/>
<polygon points="366.4,1380.7 350.2,1408.9 382.7,1408.9" fill="#000000" stroke="#000000" stroke-width="1.5" stroke-linejoin="round"/>
<polygon points="496.5,1339.2 480.2,1367.4 512.7,1367.4" fill="#000000" stroke="#000000" stroke-width="1.5" stroke-linejoin="round"/>
<polygon points="626.5,1192.1 610.3,1220.2 642.8,1220.2" fill="#000000" stroke="#000000" stroke-width="1.5" stroke-linejoin="round"/>
<polygon points="756.6,868.2 740.3,896.3 772.8,896.3" fill="#000000" stroke="#000000" stroke-width="1.5" stroke-linejoin="round"/>
<polygon points="886.6,550.2 870.3,578.3 902.8,578.3" fill="#000000" stroke="#000000" stroke-width="1.5" stroke-linejoin="round"/>
<polygon points="1016.6,338.4 1000.4,366.6 1032.9,366.6" fill="#000000" stroke="#000000" stroke-width="1.5" stroke-linejoin="round"/>
<polygon points="1146.7,233.4 1130.4,261.5 1162.9,261.5" fill="#000000" stroke="#000000" stroke-width="1.5" stroke-linejoin="round"/>
</g>
<g id="plot-b">
<path d="M1443.5 1353.4L1449.0 1352.8L1454.4 1352.3L1459.9 1351.6L1465.3 1350.9L1470.8 1350.2L1476.2 1349.4L1481.7 1348.6L1487.1 1347.7L1492.6 1346.7L1498.0 1345.6L1503.4 1344.5L1508.9 1343.3L1514.3 1342.1L1519.8 1340.7L1525.2 1339.2L1530.7 1337.7L1536.1 1336.0L1541.6 1334.2L1547.0 1332.3L1552.5 1330.3L1557.9 1328.2L1563.4 1325.9L1568.8 1323.4L1574.3 1320.8L1579.7 1318.1L1585.1 1315.1L1590.6 1312.0L1596.0 1308.7L1601.5 1305.2L1606.9 1301.5L1612.4 1297.6L1617.8 1293.5L1623.3 1289.1L1628.7 1284.5L1634.2 1279.6L1639.6 1274.4L1645.1 1269.0L1650.5 1263.3L1656.0 1257.3L1661.4 1251.0L1666.8 1244.4L1672.3 1237.5L1677.7 1230.2L1683.2 1222.6L1688.6 1214.7L1694.1 1206.4L1699.5 1197.7L1705.0 1188.7L1710.4 1179.4L1715.9 1169.6L1721.3 1159.5L1726.8 1149.0L1732.2 1138.2L1737.7 1126.9L1743.1 1115.3L1748.5 1103.4L1754.0 1091.0L1759.4 1078.4L1764.9 1065.4L1770.3 1052.0L1775.8 1038.3L1781.2 1024.4L1786.7 1010.1L1792.1 995.6L1797.6 980.9L1803.0 965.9L1808.5 950.7L1813.9 935.4L1819.4 919.9L1824.8 904.3L1830.2 888.7L1835.7 873.0L1841.1 857.4L1846.6 841.7L1852.0 826.2L1857.5 810.8L1862.9 795.6L1868.4 780.6L1873.8 765.8L1879.3 751.4" fill="none" stroke="#ff0000" stroke-width="3.2" stroke-linejoin="round"/>
<path d="M1443.5 1356.3L1449.0 1356.0L1454.4 1355.6L1459.9 1355.2L1465.3 1354.8L1470.8 1354.4L1476.2 1353.9L1481.7 1353.4L1487.1 1352.9L1492.6 1352.3L1498.0 1351.7L1503.4 1351.1L1508.9 1350.4L1514.3 1349.7L1519.8 1348.9L1525.2 1348.2L1530.7 1347.3L1536.1 1346.4L1541.6 1345.5L1547.0 1344.5L1552.5 1343.5L1557.9 1342.4L1563.4 1341.2L1568.8 1340.0L1574.3 1338.7L1579.7 1337.4L1585.1 1336.0L1590.6 1334.5L1596.0 1333.0L1601.5 1331.4L1606.9 1329.7L1612.4 1327.9L1617.8 1326.1L1623.3 1324.2L1628.7 1322.2L1634.2 1320.1L1639.6 1317.9L1645.1 1315.6L1650.5 1313.2L1656.0 1310.7L1661.4 1308.2L1666.8 1305.5L1672.3 1302.7L1677.7 1299.8L1683.2 1296.8L1688.6 1293.7L1694.1 1290.5L1699.5 1287.2L1705.0 1283.7L1710.4 1280.2L1715.9 1276.5L1721.3 1272.7L1726.8 1268.7L1732.2 1264.7L1737.7 1260.5L1743.1 1256.2L1748.5 1251.7L1754.0 1247.1L1759.4 1242.4L1764.9 1237.5L1770.3 1232.5L1775.8 1227.4L1781.2 1222.1L1786.7 1216.7L1792.1 1211.1L1797.6 1205.4L1803.0 1199.6L1808.5 1193.6L1813.9 1187.4L1819.4 1181.1L1824.8 1174.7L1830.2 1168.2L1835.7 1161.4L1841.1 1154.6L1846.6 1147.6L1852.0 1140.4L1857.5 1133.1L1862.9 1125.7L1868.4 1118.1L1873.8 1110.4L1879.3 1102.5L1884.7 1094.5L1890.2 1086.4L1895.6 1078.1L1901.1 1069.7L1906.5 1061.2L1911.9 1052.5L1917.4 1043.7L1922.8 1034.7L1928.3 1025.7L1933.7 1016.5L1939.2 1007.2L1944.6 997.7L1950.1 988.2L1955.5 978.5L1961.0 968.7L1966.4 958.8L1971.9 948.8L1977.3 938.7L1982.8 928.5L1988.2 918.2L1993.6 907.8L1999.1 897.3L2004.5 886.7L2010.0 876.0L2015.4 865.2L2020.9 854.4L2026.3 843.5L2031.8 832.4L2037.2 821.3L2042.7 810.2L2048.1 799.0L2053.6 787.7L2059.0 776.3L2064.5 764.9L2069.9 753.4L2075.4 741.9L2080.8 730.3L2086.2 718.7L2091.7 707.0L2097.1 695.3L2102.6 683.5L2108.0 671.7L2113.5 659.9L2118.9 648.0L2124.4 636.1L2129.8 624.2L2135.3 612.3L2140.7 600.3L2146.2 588.3L2151.6 576.3L2157.1 564.3L2162.5 552.2L2167.9 540.2L2173.4 528.1L2178.8 516.0L2184.3 503.9L2189.7 491.8L2195.2 479.7L2200.6 467.6L2206.1 455.5" fill="none" stroke="#000000" stroke-width="1.5" stroke-linejoin="round"/>
<path d="M1443.5 1354.8L1449.0 1354.6L1454.4 1354.3L1459.9 1354.1L1465.3 1353.8L1470.8 1353.5L1476.2 1353.2L1481.7 1352.9L1487.1 1352.5L1492.6 1352.2L1498.0 1351.8L1503.4 1351.4L1508.9 1350.9L1514.3 1350.5L1519.8 1350.0L1525.2 1349.5L1530.7 1349.0L1536.1 1348.4L1541.6 1347.8L1547.0 1347.2L1552.5 1346.6L1557.9 1345.9L1563.4 1345.1L1568.8 1344.4L1574.3 1343.5L1579.7 1342.7L1585.1 1341.8L1590.6 1340.8L1596.0 1339.8L1601.5 1338.7L1606.9 1337.6L1612.4 1336.4L1617.8 1335.1L1623.3 1333.8L1628.7 1332.4L1634.2 1330.9L1639.6 1329.4L1645.1 1327.7L1650.5 1326.0L1656.0 1324.1L1661.4 1322.2L1666.8 1320.2L1672.3 1318.0L1677.7 1315.8L1683.2 1313.4L1688.6 1310.9L1694.1 1308.3L1699.5 1305.5L1705.0 1302.6L1710.4 1299.6L1715.9 1296.3L1721.3 1293.0L1726.8 1289.4L1732.2 1285.7L1737.7 1281.8L1743.1 1277.7L1748.5 1273.4L1754.0 1268.9L1759.4 1264.2L1764.9 1259.2L1770.3 1254.0L1775.8 1248.6L1781.2 1243.0L1786.7 1237.0L1792.1 1230.9L1797.6 1224.4L1803.0 1217.7L1808.5 1210.7L1813.9 1203.4L1819.4 1195.8L1824.8 1187.9L1830.2 1179.6L1835.7 1171.1L1841.1 1162.2L1846.6 1153.0L1852.0 1143.5L1857.5 1133.6L1862.9 1123.3L1868.4 1112.8L1873.8 1101.9L1879.3 1090.6L1884.7 1079.0L1890.2 1067.0L1895.6 1054.7L1901.1 1042.0L1906.5 1029.0L1911.9 1015.7L1917.4 1002.0L1922.8 988.0L1928.3 973.7L1933.7 959.1L1939.2 944.2L1944.6 929.1L1950.1 913.6L1955.5 898.0L1961.0 882.1L1966.4 866.1L1971.9 849.8L1977.3 833.4L1982.8 816.9L1988.2 800.3L1993.6 783.7L1999.1 767.0L2004.5 750.3L2010.0 733.6L2015.4 717.1L2020.9 700.6L2026.3 684.3L2031.8 668.2L2037.2 652.4L2042.7 636.8" fill="none" stroke="#ff0000" stroke-width="1.5" stroke-linejoin="round"/>
<path d="M1443.5 1359.5L1449.0 1359.4L1454.4 1359.4L1459.9 1359.4L1465.3 1359.3L1470.8 1359.3L1476.2 1359.3L1481.7 1359.2L1487.1 1359.2L1492.6 1359.1L1498.0 1359.1L1503.4 1359.0L1508.9 1359.0L1514.3 1358.9L1519.8 1358.9L1525.2 1358.8L1530.7 1358.7L1536.1 1358.7L1541.6 1358.6L1547.0 1358.5L1552.5 1358.4L1557.9 1358.3L1563.4 1358.2L1568.8 1358.1L1574.3 1358.0L1579.7 1357.9L1585.1 1357.8L1590.6 1357.7L1596.0 1357.6L1601.5 1357.4L1606.9 1357.3L1612.4 1357.1L1617.8 1357.0L1623.3 1356.8L1628.7 1356.6L1634.2 1356.4L1639.6 1356.2L1645.1 1356.0L1650.5 1355.8L1656.0 1355.6L1661.4 1355.4L1666.8 1355.1L1672.3 1354.8L1677.7 1354.6L1683.2 1354.3L1688.6 1354.0L1694.1 1353.6L1699.5 1353.3L1705.0 1353.0L1710.4 1352.6L1715.9 1352.2L1721.3 1351.8L1726.8 1351.4L1732.2 1350.9L1737.7 1350.5L1743.1 1350.0L1748.5 1349.5L1754.0 1349.0L1759.4 1348.4L1764.9 1347.8L1770.3 1347.2L1775.8 1346.6L1781.2 1345.9L1786.7 1345.2L1792.1 1344.5L1797.6 1343.8L1803.0 1343.0L1808.5 1342.2L1813.9 1341.4L1819.4 1340.5L1824.8 1339.6L1830.2 1338.7L1835.7 1337.7L1841.1 1336.7L1846.6 1335.6L1852.0 1334.5L1857.5 1333.4L1862.9 1332.2L1868.4 1331.0L1873.8 1329.8L1879.3 1328.5L1884.7 1327.2L1890.2 1325.8L1895.6 1324.4L1901.1 1322.9L1906.5 1321.4L1911.9 1319.9L1917.4 1318.3L1922.8 1316.6L1928.3 1314.9L1933.7 1313.2L1939.2 1311.4L1944.6 1309.6L1950.1 1307.7L1955.5 1305.8L1961.0 1303.8L1966.4 1301.8L1971.9 1299.7L1977.3 1297.6L1982.8 1295.5L1988.2 1293.3L1993.6 1291.0L1999.1 1288.8L2004.5 1286.4L2010.0 1284.1L2015.4 1281.6L2020.9 1279.2L2026.3 1276.7L2031.8 1274.1L2037.2 1271.5L2042.7 1268.9L2048.1 1266.2L2053.6 1263.5L2059.0 1260.8L2064.5 1258.0L2069.9 1255.2L2075.4 1252.4L2080.8 1249.5L2086.2 1246.6L2091.7 1243.6L2097.1 1240.7L2102.6 1237.6L2108.0 1234.6L2113.5 1231.5L2118.9 1228.4L2124.4 1225.3L2129.8 1222.2L2135.3 1219.0L2140.7 1215.8L2146.2 1212.6L2151.6 1209.3L2157.1 1206.0L2162.5 1202.7L2167.9 1199.4L2173.4 1196.0L2178.8 1192.7L2184.3 1189.2L2189.7 1185.8L2195.2 1182.3L2200.6 1178.9L2206.1 1175.3L2211.5 1171.8L2217.0 1168.2L2222.4 1164.6L2227.9 1160.9L2233.3 1157.2L2238.8 1153.5L2244.2 1149.7L2249.6 1145.9L2255.1 1142.0L2260.5 1138.1L2266.0 1134.1L2271.4 1130.1L2276.9 1126.0L2282.3 1121.8L2287.8 1117.6L2293.2 1113.3L2298.7 1108.9L2304.1 1104.4L2309.6 1099.8L2315.0 1095.1L2320.5 1090.4L2325.9 1085.4L2331.3 1080.4L2336.8 1075.2L2342.2 1069.9L2347.7 1064.5L2353.1 1058.8L2358.6 1053.0L2364.0 1047.1L2369.5 1040.9L2374.9 1034.5L2380.4 1027.8L2385.8 1020.9L2391.3 1013.8L2396.7 1006.4" fill="none" stroke="#000000" stroke-width="1.5" stroke-linejoin="round"/>
<path d="M1443.5 1360.7L1449.0 1360.7L1454.4 1360.7L1459.9 1360.7L1465.3 1360.7L1470.8 1360.7L1476.2 1360.7L1481.7 1360.7L1487.1 1360.7L1492.6 1360.7L1498.0 1360.7L1503.4 1360.7L1508.9 1360.7L1514.3 1360.7L1519.8 1360.7L1525.2 1360.7L1530.7 1360.7L1536.1 1360.7L1541.6 1360.7L1547.0 1360.7L1552.5 1360.7L1557.9 1360.7L1563.4 1360.7L1568.8 1360.7L1574.3 1360.7L1579.7 1360.7L1585.1 1360.7L1590.6 1360.7L1596.0 1360.7L1601.5 1360.7L1606.9 1360.7L1612.4 1360.7L1617.8 1360.7L1623.3 1360.7L1628.7 1360.7L1634.2 1360.6L1639.6 1360.6L1645.1 1360.6L1650.5 1360.6L1656.0 1360.6L1661.4 1360.5L1666.8 1360.5L1672.3 1360.5L1677.7 1360.4L1683.2 1360.3L1688.6 1360.3L1694.1 1360.2L1699.5 1360.1L1705.0 1360.0L1710.4 1359.8L1715.9 1359.7L1721.3 1359.5L1726.8 1359.3L1732.2 1359.1L1737.7 1358.8L1743.1 1358.5L1748.5 1358.2L1754.0 1357.8L1759.4 1357.4L1764.9 1357.0L1770.3 1356.4L1775.8 1355.9L1781.2 1355.2L1786.7 1354.6L1792.1 1353.8L1797.6 1353.0L1803.0 1352.1L1808.5 1351.1L1813.9 1350.0L1819.4 1348.9L1824.8 1347.6L1830.2 1346.3L1835.7 1344.8L1841.1 1343.2L1846.6 1341.6L1852.0 1339.8L1857.5 1337.9L1862.9 1335.9L1868.4 1333.7L1873.8 1331.5L1879.3 1329.1L1884.7 1326.5L1890.2 1323.8L1895.6 1321.0L1901.1 1318.0L1906.5 1314.9L1911.9 1311.6L1917.4 1308.2L1922.8 1304.6L1928.3 1300.9L1933.7 1297.0L1939.2 1292.9L1944.6 1288.7L1950.1 1284.3L1955.5 1279.7L1961.0 1274.9L1966.4 1270.0L1971.9 1264.9L1977.3 1259.6L1982.8 1254.1L1988.2 1248.4L1993.6 1242.5L1999.1 1236.5L2004.5 1230.2L2010.0 1223.7L2015.4 1217.1L2020.9 1210.2L2026.3 1203.1L2031.8 1195.8L2037.2 1188.3L2042.7 1180.5L2048.1 1172.5L2053.6 1164.3L2059.0 1155.8L2064.5 1147.1L2069.9 1138.1L2075.4 1128.9L2080.8 1119.4L2086.2 1109.7L2091.7 1099.6L2097.1 1089.3L2102.6 1078.7L2108.0 1067.8L2113.5 1056.5L2118.9 1045.0L2124.4 1033.2L2129.8 1021.0L2135.3 1008.5L2140.7 995.6L2146.2 982.4L2151.6 968.8L2157.1 954.9L2162.5 940.6L2167.9 925.9L2173.4 910.8L2178.8 895.4L2184.3 879.5L2189.7 863.2L2195.2 846.5L2200.6 829.4L2206.1 811.9L2211.5 793.9L2217.0 775.6L2222.4 756.8L2227.9 737.5L2233.3 717.9L2238.8 697.8L2244.2 677.3L2249.6 656.4L2255.1 635.1L2260.5 613.3L2266.0 591.2L2271.4 568.8L2276.9 545.9L2282.3 522.7L2287.8 499.2L2293.2 475.4L2298.7 451.4L2304.1 427.0L2309.6 402.5L2315.0 377.8L2320.5 353.0L2325.9 328.1L2331.3 303.2L2336.8 278.3L2342.2 253.4L2347.7 228.7L2353.1 204.1L2358.6 179.9L2364.0 155.9L2369.5 132.4" fill="none" stroke="#ff0000" stroke-width="1.5" stroke-linejoin="round"/>
<path d="M1443.5 1360.1L1449.0 1360.0L1454.4 1360.0L1459.9 1359.9L1465.3 1359.9L1470.8 1359.8L1476.2 1359.8L1481.7 1359.7L1487.1 1359.6L1492.6 1359.6L1498.0 1359.5L1503.4 1359.4L1508.9 1359.3L1514.3 1359.2L1519.8 1359.1L1525.2 1359.0L1530.7 1358.9L1536.1 1358.8L1541.6 1358.7L1547.0 1358.6L1552.5 1358.4L1557.9 1358.3L1563.4 1358.1L1568.8 1358.0L1574.3 1357.8L1579.7 1357.6L1585.1 1357.4L1590.6 1357.2L1596.0 1357.0L1601.5 1356.8L1606.9 1356.6L1612.4 1356.3L1617.8 1356.1L1623.3 1355.8L1628.7 1355.5L1634.2 1355.2L1639.6 1354.9L1645.1 1354.6L1650.5 1354.2L1656.0 1353.9L1661.4 1353.5L1666.8 1353.1L1672.3 1352.7L1677.7 1352.2L1683.2 1351.8L1688.6 1351.3L1694.1 1350.8L1699.5 1350.3L1705.0 1349.7L1710.4 1349.1L1715.9 1348.5L1721.3 1347.9L1726.8 1347.2L1732.2 1346.5L1737.7 1345.8L1743.1 1345.1L1748.5 1344.3L1754.0 1343.5L1759.4 1342.6L1764.9 1341.7L1770.3 1340.8L1775.8 1339.9L1781.2 1338.9L1786.7 1337.8L1792.1 1336.7L1797.6 1335.6L1803.0 1334.5L1808.5 1333.3L1813.9 1332.0L1819.4 1330.7L1824.8 1329.4L1830.2 1328.0L1835.7 1326.5L1841.1 1325.0L1846.6 1323.5L1852.0 1321.9L1857.5 1320.3L1862.9 1318.6L1868.4 1316.8L1873.8 1315.0L1879.3 1313.1L1884.7 1311.2L1890.2 1309.2L1895.6 1307.1L1901.1 1305.0L1906.5 1302.8L1911.9 1300.6L1917.4 1298.3L1922.8 1296.0L1928.3 1293.5L1933.7 1291.0L1939.2 1288.5L1944.6 1285.9L1950.1 1283.2L1955.5 1280.4L1961.0 1277.6L1966.4 1274.7L1971.9 1271.8L1977.3 1268.7L1982.8 1265.7L1988.2 1262.5L1993.6 1259.3L1999.1 1256.0L2004.5 1252.7L2010.0 1249.3L2015.4 1245.8L2020.9 1242.2L2026.3 1238.7L2031.8 1235.0L2037.2 1231.3L2042.7 1227.5L2048.1 1223.7L2053.6 1219.8L2059.0 1215.9L2064.5 1211.9L2069.9 1207.8L2075.4 1203.7L2080.8 1199.6L2086.2 1195.4L2091.7 1191.2L2097.1 1187.0L2102.6 1182.7L2108.0 1178.3L2113.5 1174.0L2118.9 1169.6L2124.4 1165.2L2129.8 1160.7L2135.3 1156.3L2140.7 1151.8L2146.2 1147.3L2151.6 1142.9L2157.1 1138.4L2162.5 1133.9L2167.9 1129.4L2173.4 1124.9L2178.8 1120.4L2184.3 1116.0L2189.7 1111.5L2195.2 1107.1L2200.6 1102.7L2206.1 1098.4" fill="none" stroke="#000000" stroke-width="1.5" stroke-linejoin="round"/>
<path d="M1443.5 1360.7L1449.0 1360.7L1454.4 1360.7L1459.9 1360.7L1465.3 1360.7L1470.8 1360.7L1476.2 1360.7L1481.7 1360.7L1487.1 1360.7L1492.6 1360.6L1498.0 1360.6L1503.4 1360.6L1508.9 1360.6L1514.3 1360.6L1519.8 1360.6L1525.2 1360.6L1530.7 1360.6L1536.1 1360.6L1541.6 1360.6L1547.0 1360.6L1552.5 1360.6L1557.9 1360.5L1563.4 1360.5L1568.8 1360.5L1574.3 1360.5L1579.7 1360.5L1585.1 1360.5L1590.6 1360.4L1596.0 1360.4L1601.5 1360.4L1606.9 1360.4L1612.4 1360.3L1617.8 1360.3L1623.3 1360.3L1628.7 1360.2L1634.2 1360.2L1639.6 1360.1L1645.1 1360.1L1650.5 1360.0L1656.0 1360.0L1661.4 1359.9L1666.8 1359.8L1672.3 1359.7L1677.7 1359.6L1683.2 1359.5L1688.6 1359.4L1694.1 1359.3L1699.5 1359.2L1705.0 1359.1L1710.4 1358.9L1715.9 1358.8L1721.3 1358.6L1726.8 1358.4L1732.2 1358.2L1737.7 1358.0L1743.1 1357.8L1748.5 1357.5L1754.0 1357.2L1759.4 1356.9L1764.9 1356.6L1770.3 1356.3L1775.8 1355.9L1781.2 1355.5L1786.7 1355.0L1792.1 1354.6L1797.6 1354.0L1803.0 1353.5L1808.5 1352.9L1813.9 1352.2L1819.4 1351.5L1824.8 1350.8L1830.2 1350.0L1835.7 1349.1L1841.1 1348.2L1846.6 1347.2L1852.0 1346.1L1857.5 1344.9L1862.9 1343.7L1868.4 1342.4L1873.8 1340.9L1879.3 1339.4L1884.7 1337.7L1890.2 1336.0L1895.6 1334.1L1901.1 1332.1L1906.5 1329.9L1911.9 1327.6L1917.4 1325.1L1922.8 1322.5L1928.3 1319.7L1933.7 1316.7L1939.2 1313.5L1944.6 1310.1L1950.1 1306.4L1955.5 1302.6L1961.0 1298.5L1966.4 1294.1L1971.9 1289.5L1977.3 1284.6L1982.8 1279.4L1988.2 1273.9L1993.6 1268.0L1999.1 1261.8L2004.5 1255.3L2010.0 1248.3L2015.4 1241.0L2020.9 1233.3L2026.3 1225.1L2031.8 1216.5L2037.2 1207.5L2042.7 1197.9L2048.1 1187.9L2053.6 1177.4L2059.0 1166.3L2064.5 1154.7L2069.9 1142.5L2075.4 1129.7L2080.8 1116.3L2086.2 1102.3L2091.7 1087.6L2097.1 1072.3L2102.6 1056.4L2108.0 1039.7L2113.5 1022.4L2118.9 1004.3L2124.4 985.5L2129.8 965.9L2135.3 945.7L2140.7 924.6L2146.2 902.8L2151.6 880.2L2157.1 856.8L2162.5 832.7L2167.9 807.7L2173.4 782.0L2178.8 755.5L2184.3 728.2L2189.7 700.2L2195.2 671.4L2200.6 641.8L2206.1 611.5L2211.5 580.5L2217.0 548.7L2222.4 516.3L2227.9 483.3L2233.3 449.6L2238.8 415.3L2244.2 380.5L2249.6 345.2L2255.1 309.4L2260.5 273.1L2266.0 236.4L2271.4 199.5L2276.9 162.2L2282.3 124.7L2286.5 95.6" fill="none" stroke="#000000" stroke-width="2.8" stroke-dasharray="9.8 9.1" stroke-linejoin="round"/>
<polygon points="1552.5,1332.4 1536.2,1360.6 1568.7,1360.6" fill="#ff0000" stroke="#ff0000" stroke-width="1.5" stroke-linejoin="round"/>
<polygon points="1715.9,1294.5 1699.6,1322.6 1732.1,1322.6" fill="#ff0000" stroke="#ff0000" stroke-width="1.5" stroke-linejoin="round"/>
<polygon points="1879.3,1127.7 1863.0,1155.8 1895.5,1155.8" fill="#ff0000" stroke="#ff0000" stroke-width="1.5" stroke-linejoin="round"/>
<polygon points="2042.7,618.1 2026.4,646.3 2058.9,646.3" fill="#ff0000" stroke="#ff0000" stroke-width="1.5" stroke-linejoin="round"/>
<circle cx="1552.5" cy="1360.7" r="13.8" fill="#ff0000"/>
<circle cx="1715.9" cy="1359.1" r="13.8" fill="#ff0000"/>
<circle cx="1879.3" cy="1350.9" r="13.8" fill="#ff0000"/>
<circle cx="2042.7" cy="1210.0" r="13.8" fill="#ff0000"/>
<circle cx="2206.1" cy="895.3" r="13.8" fill="#ff0000"/>
<circle cx="2369.5" cy="131.2" r="13.8" fill="#ff0000"/>
<circle cx="1552.5" cy="1359.1" r="13.8" fill="#000000"/>
<circle cx="1715.9" cy="1354.4" r="13.8" fill="#000000"/>
<circle cx="1879.3" cy="1320.4" r="13.8" fill="#000000"/>
<circle cx="2042.7" cy="1239.6" r="13.8" fill="#000000"/>
<circle cx="2206.1" cy="1098.3" r="13.8" fill="#000000"/>
<polygon points="1552.5,1341.9 1536.2,1370.1 1568.7,1370.1" fill="#000000" stroke="#000000" stroke-width="1.5" stroke-linejoin="round"/>
<polygon points="1715.9,1337.2 1699.6,1365.3 1732.1,1365.3" fill="#000000" stroke="#000000" stroke-width="1.5" stroke-linejoin="round"/>
<polygon points="1879.3,1315.7 1863.0,1343.8 1895.5,1343.8" fill="#000000" stroke="#000000" stroke-width="1.5" stroke-linejoin="round"/>
<polygon points="2042.7,1257.5 2026.4,1285.6 2058.9,1285.6" fill="#000000" stroke="#000000" stroke-width="1.5" stroke-linejoin="round"/>
<polygon points="2206.1,1161.7 2189.8,1189.8 2222.3,1189.8" fill="#000000" stroke="#000000" stroke-width="1.5" stroke-linejoin="round"/>
<polygon points="2369.5,1026.4 2353.2,1054.6 2385.7,1054.6" fill="#000000" stroke="#000000" stroke-width="1.5" stroke-linejoin="round"/>
</g>
<g id="titles">
<g transform="translate(454.0 1744.0) scale(1 1.04)"><text class="ttl" letter-spacing="-0.15">Temperature, <tspan font-size="44.5" font-weight="normal" dy="-36">0</tspan><tspan dy="36">C</tspan></text></g>
<g transform="translate(1644.0 1734.5) scale(1 1.04)"><text class="ttl" letter-spacing="-0.15">Temperature, <tspan font-size="44.5" font-weight="normal" dy="-36">0</tspan><tspan dy="36">C</tspan></text></g>
<text class="ttl" letter-spacing="0.15" transform="translate(91.0 1048.0) rotate(-90) scale(1 1.04)">Conversion, %</text>
<g transform="translate(1219.5 961.0) rotate(-90) scale(1 1.04)"><text class="ttl" letter-spacing="-0.5">R, mol/(m<tspan font-size="44.5" font-weight="bold" dy="-36">2</tspan><tspan dy="36">*c)</tspan></text></g>
</g>
<g id="legend">
<path d="M1666 49.3H1809" stroke="#000" stroke-width="3.2" stroke-dasharray="11.75 7" fill="none"/>
<text class="lg" transform="translate(1833.0 72.3) scale(1 1.04)">X<tspan dx="3.5">=0</tspan></text>
<path d="M1518.7 131.2H1670.2" stroke="#ff0000" stroke-width="3.2" fill="none"/>
<path d="M1670.2 131.2H1819.2" stroke="#000" stroke-width="1.2" fill="none"/>
<text class="lg" transform="translate(1833.0 154.2) scale(1 1.04)">X<tspan dx="3.5">=0.1</tspan></text>
<path d="M1518.7 213.0H1576.2M1612.6000000000001 213.0H1668.2" stroke="#ff0000" stroke-width="1.8" fill="none"/>
<path d="M1668.2 213.0H1724.6M1761.0 213.0H1819.2" stroke="#000" stroke-width="1.8" fill="none"/>
<polygon points="1594.4,194.3 1578.2,222.4 1610.7,222.4" fill="#ff0000" stroke="#ff0000" stroke-width="1.5" stroke-linejoin="round"/>
<polygon points="1742.8,194.3 1726.5,222.4 1759.0,222.4" fill="#000000" stroke="#000000" stroke-width="1.5" stroke-linejoin="round"/>
<text class="lg" transform="translate(1833.0 236.0) scale(1 1.04)">X<tspan dx="3.5">=0.5</tspan></text>
<path d="M1518.7 294.9H1576.2M1612.6000000000001 294.9H1668.2" stroke="#ff0000" stroke-width="1.8" fill="none"/>
<path d="M1668.2 294.9H1724.6M1761.0 294.9H1819.2" stroke="#000" stroke-width="1.8" fill="none"/>
<circle cx="1594.4" cy="294.9" r="13.8" fill="#ff0000"/>
<circle cx="1742.8" cy="294.9" r="13.8" fill="#000000"/>
<text class="lg" transform="translate(1833.0 317.9) scale(1 1.04)">X<tspan dx="3.5">=0.9</tspan></text>
</g>
<g id="captions">
<text class="cap" transform="translate(605.0 1929.7) scale(0.94 1)"><tspan x="0" font-size="86.7">(</tspan><tspan x="29.1" font-size="86.7" font-weight="bold">a</tspan><tspan x="72.9" font-size="86.7">)</tspan></text>
<text class="cap" transform="translate(1946.2 1929.7) scale(0.94 1)"><tspan x="0" font-size="86.7">(</tspan><tspan x="29.4" font-size="93" font-weight="bold">b</tspan><tspan x="83.3" font-size="86.7">)</tspan></text>
</g>
</svg></body></html>
